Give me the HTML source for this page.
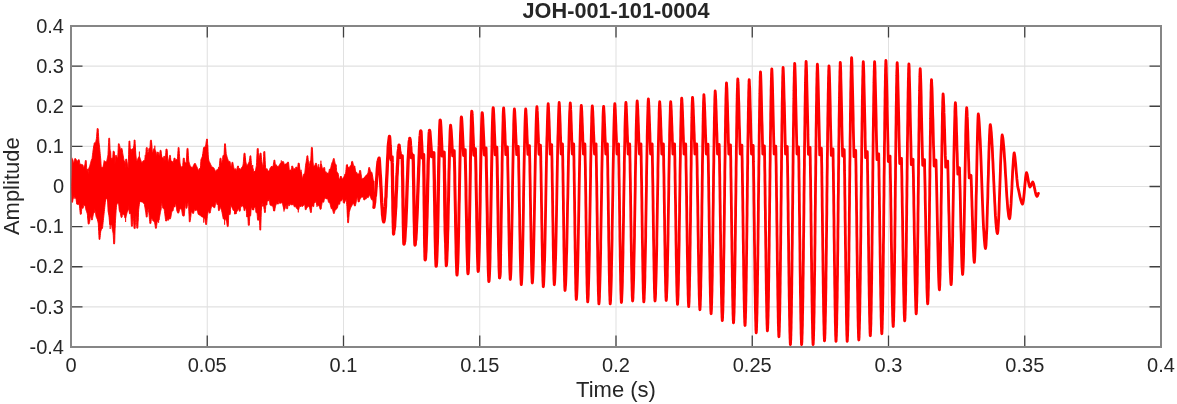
<!DOCTYPE html>
<html lang="en">
<head>
<meta charset="utf-8">
<title>JOH-001-101-0004</title>
<style>
html,body{margin:0;padding:0;background:#fff;}
body{width:1177px;height:404px;overflow:hidden;}
svg{display:block;}
</style>
</head>
<body>
<svg width="1177" height="404" viewBox="0 0 1177 404">
<rect width="1177" height="404" fill="#fff"/>
<path d="M207.25 26.0V347.0M343.50 26.0V347.0M479.75 26.0V347.0M616.00 26.0V347.0M752.25 26.0V347.0M888.50 26.0V347.0M1024.75 26.0V347.0M71.0 66.12H1161.0M71.0 106.25H1161.0M71.0 146.38H1161.0M71.0 186.50H1161.0M71.0 226.62H1161.0M71.0 266.75H1161.0M71.0 306.88H1161.0" stroke="#e1e1e1" stroke-width="1.05" fill="none"/>
<path d="M207.25 347.0v-11.5M207.25 26.0v11.5M343.50 347.0v-11.5M343.50 26.0v11.5M479.75 347.0v-11.5M479.75 26.0v11.5M616.00 347.0v-11.5M616.00 26.0v11.5M752.25 347.0v-11.5M752.25 26.0v11.5M888.50 347.0v-11.5M888.50 26.0v11.5M1024.75 347.0v-11.5M1024.75 26.0v11.5M71.0 66.12h11.5M1161.0 66.12h-11.5M71.0 106.25h11.5M1161.0 106.25h-11.5M71.0 146.38h11.5M1161.0 146.38h-11.5M71.0 186.50h11.5M1161.0 186.50h-11.5M71.0 226.62h11.5M1161.0 226.62h-11.5M71.0 266.75h11.5M1161.0 266.75h-11.5M71.0 306.88h11.5M1161.0 306.88h-11.5" stroke="#404040" stroke-width="1.3" fill="none"/>
<rect x="71.0" y="26.0" width="1090.0" height="321.0" fill="none" stroke="#868686" stroke-width="2"/>
<path d="M71.8 186.5L72.4 159.5L72.6 159.5L72.8 159.5L73.0 160.7L73.2 162.0L73.4 162.6L73.6 162.8L73.8 162.8L74.0 162.0L74.2 161.1L74.4 160.3L74.6 159.4L74.8 158.6L75.0 158.6L75.2 158.6L75.4 158.6L75.6 158.6L75.8 158.9L76.0 159.2L76.2 159.5L76.4 159.8L76.6 160.1L76.8 160.4L77.0 160.7L77.2 161.0L77.4 161.3L77.6 161.2L77.8 160.8L78.0 160.4L78.2 160.1L78.4 159.7L78.6 159.7L78.8 159.7L79.0 159.7L79.2 159.7L79.4 160.4L79.6 162.1L79.8 163.9L80.0 165.4L80.2 164.7L80.4 164.0L80.6 164.0L80.8 164.0L81.0 164.0L81.2 164.0L81.4 164.3L81.6 165.6L81.8 165.9L82.0 164.8L82.2 164.8L82.4 164.8L82.6 164.8L82.8 164.8L83.0 165.1L83.2 166.9L83.4 168.7L83.6 167.9L83.8 167.1L84.0 166.3L84.2 166.3L84.4 166.3L84.6 166.3L84.8 164.9L85.0 163.4L85.2 162.0L85.4 160.5L85.6 160.5L85.8 160.5L86.0 160.5L86.2 160.5L86.4 163.9L86.6 167.3L86.8 170.5L87.0 169.3L87.2 169.3L87.4 169.3L87.6 169.3L87.8 169.3L88.0 172.0L88.2 174.4L88.4 171.5L88.6 168.7L88.8 168.2L89.0 167.8L89.2 167.3L89.4 166.8L89.6 166.3L89.8 165.8L90.0 165.0L90.2 164.2L90.4 163.5L90.6 162.7L90.8 161.9L91.0 161.2L91.2 160.5L91.4 159.8L91.6 159.3L91.8 159.0L92.0 158.7L92.2 157.4L92.4 155.8L92.6 154.2L92.8 152.6L93.0 151.0L93.2 149.4L93.4 148.2L93.6 147.0L93.8 145.8L94.0 144.6L94.2 143.4L94.4 142.8L94.6 142.8L94.8 142.8L95.0 142.8L95.2 142.8L95.4 142.8L95.6 142.3L95.8 141.4L96.0 140.4L96.2 139.5L96.4 138.6L96.6 136.7L96.8 134.0L97.0 131.2L97.2 128.5L97.4 128.5L97.6 128.5L97.8 128.5L98.0 128.5L98.2 129.0L98.4 132.7L98.6 136.4L98.8 140.1L99.0 142.8L99.2 144.4L99.4 146.0L99.6 147.6L99.8 149.5L100.0 151.6L100.2 153.7L100.4 155.8L100.6 158.0L100.8 160.1L101.0 163.7L101.2 167.3L101.4 169.0L101.6 167.3L101.8 167.3L102.0 167.3L102.2 167.3L102.4 167.3L102.6 167.8L102.8 167.9L103.0 167.0L103.2 166.2L103.4 165.3L103.6 164.5L103.8 163.8L104.0 163.1L104.2 162.4L104.4 161.7L104.6 161.5L104.8 161.5L105.0 161.5L105.2 161.5L105.4 161.5L105.6 161.7L105.8 162.0L106.0 162.2L106.2 162.0L106.4 161.5L106.6 161.0L106.8 160.5L107.0 160.0L107.2 158.9L107.4 157.8L107.6 156.6L107.8 155.5L108.0 154.4L108.2 150.4L108.4 146.3L108.6 142.3L108.8 138.2L109.0 138.2L109.2 138.2L109.4 138.2L109.6 138.2L109.8 143.2L110.0 148.3L110.2 151.2L110.4 151.2L110.6 151.2L110.8 155.1L111.0 159.1L111.2 160.5L111.4 158.3L111.6 158.3L111.8 158.3L112.0 158.3L112.2 158.3L112.4 159.1L112.6 159.5L112.8 156.7L113.0 154.0L113.2 151.2L113.4 151.2L113.6 151.2L113.8 151.2L114.0 151.2L114.2 153.5L114.4 155.7L114.6 158.0L114.8 163.5L115.0 163.6L115.2 160.2L115.4 156.8L115.6 155.4L115.8 155.4L116.0 155.4L116.2 155.4L116.4 155.4L116.6 156.0L116.8 156.6L117.0 157.2L117.2 157.8L117.4 158.4L117.6 159.0L117.8 156.9L118.0 152.5L118.2 148.2L118.4 143.8L118.6 143.8L118.8 143.8L119.0 143.8L119.2 143.8L119.4 144.6L119.6 145.4L119.8 146.2L120.0 147.0L120.2 148.6L120.4 149.5L120.6 149.3L120.8 149.0L121.0 148.7L121.2 148.4L121.4 148.4L121.6 148.4L121.8 148.4L122.0 148.4L122.2 149.7L122.4 151.0L122.6 152.3L122.8 153.6L123.0 154.7L123.2 155.9L123.4 157.1L123.6 158.2L123.8 159.4L124.0 160.2L124.2 160.8L124.4 161.3L124.6 161.8L124.8 162.4L125.0 164.8L125.2 169.1L125.4 166.6L125.6 161.2L125.8 159.1L126.0 159.1L126.2 159.1L126.4 159.1L126.6 159.1L126.8 160.2L127.0 161.3L127.2 162.4L127.4 163.5L127.6 164.8L127.8 166.1L128.0 167.4L128.2 168.3L128.4 161.5L128.6 154.6L128.8 147.8L129.0 141.0L129.2 141.0L129.4 141.0L129.6 141.0L129.8 141.0L130.0 144.2L130.2 147.5L130.4 150.5L130.6 149.3L130.8 149.3L131.0 149.3L131.2 149.3L131.4 149.3L131.6 151.9L131.8 154.1L132.0 151.5L132.2 148.8L132.4 148.8L132.6 148.8L132.8 148.8L133.0 148.8L133.2 149.6L133.4 150.4L133.6 150.2L133.8 146.8L134.0 143.4L134.2 140.0L134.4 140.0L134.6 140.0L134.8 140.0L135.0 140.0L135.2 143.5L135.4 147.0L135.6 150.5L135.8 154.0L136.0 156.0L136.2 158.0L136.4 160.0L136.6 160.2L136.8 160.3L137.0 160.5L137.2 160.3L137.4 159.8L137.6 159.3L137.8 158.8L138.0 158.3L138.2 157.9L138.4 157.5L138.6 157.2L138.8 156.8L139.0 156.8L139.2 156.8L139.4 156.8L139.6 156.8L139.8 157.4L140.0 157.9L140.2 158.5L140.4 159.1L140.6 159.6L140.8 160.2L141.0 160.8L141.2 161.3L141.4 161.8L141.6 162.3L141.8 162.8L142.0 162.8L142.2 162.3L142.4 161.9L142.6 161.4L142.8 161.2L143.0 161.0L143.2 160.9L143.4 160.7L143.6 160.5L143.8 160.5L144.0 160.5L144.2 160.5L144.4 160.5L144.6 161.7L144.8 160.0L145.0 157.5L145.2 154.9L145.4 154.9L145.6 154.9L145.8 154.7L146.0 151.5L146.2 148.2L146.4 147.6L146.6 147.6L146.8 147.6L147.0 147.6L147.2 147.6L147.4 149.6L147.6 151.6L147.8 152.5L148.0 152.5L148.2 152.5L148.4 154.1L148.6 151.5L148.8 148.9L149.0 148.2L149.2 148.2L149.4 148.2L149.6 148.2L149.8 148.2L150.0 147.4L150.2 144.1L150.4 140.8L150.6 140.2L150.8 140.2L151.0 140.2L151.2 140.2L151.4 140.2L151.6 142.4L151.8 144.5L152.0 146.7L152.2 151.7L152.4 153.1L152.6 152.9L152.8 151.8L153.0 151.1L153.2 150.3L153.4 149.5L153.6 148.8L153.8 148.7L154.0 148.7L154.2 148.7L154.4 148.7L154.6 148.7L154.8 149.4L155.0 149.9L155.2 150.3L155.4 150.7L155.6 151.1L155.8 151.5L156.0 151.9L156.2 152.5L156.4 153.5L156.6 154.4L156.8 155.4L157.0 154.4L157.2 153.3L157.4 152.1L157.6 152.1L157.8 152.1L158.0 152.1L158.2 152.1L158.4 153.0L158.6 153.9L158.8 154.7L159.0 155.6L159.2 155.6L159.4 154.6L159.6 153.5L159.8 152.4L160.0 151.4L160.2 150.3L160.4 150.3L160.6 150.3L160.8 150.3L161.0 150.3L161.2 152.0L161.4 153.8L161.6 155.5L161.8 157.2L162.0 157.7L162.2 157.7L162.4 157.7L162.6 157.8L162.8 157.8L163.0 157.8L163.2 160.1L163.4 161.6L163.6 159.0L163.8 156.3L164.0 156.3L164.2 156.3L164.4 156.3L164.6 156.3L164.8 158.7L165.0 161.1L165.2 161.6L165.4 159.4L165.6 156.0L165.8 152.6L166.0 149.2L166.2 149.0L166.4 149.0L166.6 149.0L166.8 149.0L167.0 149.0L167.2 152.1L167.4 155.2L167.6 158.3L167.8 160.2L168.0 160.9L168.2 161.7L168.4 161.6L168.6 160.6L168.8 159.7L169.0 158.7L169.2 157.7L169.4 156.5L169.6 155.4L169.8 155.4L170.0 155.4L170.2 155.4L170.4 155.4L170.6 157.8L170.8 160.3L171.0 162.0L171.2 161.0L171.4 161.0L171.6 161.0L171.8 161.0L172.0 161.0L172.2 161.3L172.4 161.5L172.6 161.7L172.8 161.9L173.0 162.1L173.2 162.4L173.4 162.2L173.6 160.9L173.8 159.6L174.0 158.3L174.2 158.1L174.4 158.1L174.6 158.1L174.8 158.1L175.0 158.1L175.2 158.8L175.4 159.6L175.6 160.2L175.8 160.1L176.0 159.9L176.2 159.8L176.4 159.6L176.6 159.6L176.8 159.6L177.0 159.6L177.2 159.6L177.4 159.1L177.6 156.2L177.8 153.3L178.0 150.4L178.2 147.5L178.4 147.5L178.6 147.5L178.8 147.5L179.0 147.5L179.2 150.6L179.4 153.7L179.6 156.8L179.8 159.9L180.0 163.0L180.2 163.9L180.4 164.7L180.6 165.6L180.8 166.4L181.0 167.3L181.2 167.6L181.4 167.1L181.6 166.7L181.8 166.7L182.0 166.7L182.2 166.7L182.4 166.7L182.6 167.0L182.8 165.7L183.0 162.4L183.2 159.1L183.4 158.1L183.6 158.1L183.8 158.1L184.0 158.1L184.2 158.1L184.4 159.4L184.6 160.6L184.8 161.9L185.0 162.3L185.2 162.5L185.4 162.7L185.6 162.8L185.8 163.0L186.0 163.1L186.2 163.2L186.4 161.4L186.6 157.1L186.8 152.9L187.0 148.7L187.2 148.4L187.4 148.4L187.6 148.4L187.8 148.4L188.0 148.4L188.2 152.0L188.4 155.5L188.6 159.1L188.8 161.2L189.0 161.9L189.2 162.6L189.4 163.3L189.6 163.9L189.8 164.6L190.0 165.2L190.2 165.8L190.4 166.4L190.6 167.0L190.8 167.0L191.0 167.0L191.2 167.0L191.4 167.0L191.6 167.0L191.8 167.2L192.0 167.4L192.2 167.6L192.4 167.7L192.6 167.2L192.8 166.8L193.0 166.4L193.2 165.9L193.4 165.5L193.6 165.1L193.8 164.7L194.0 164.3L194.2 163.9L194.4 163.5L194.6 163.5L194.8 163.5L195.0 163.5L195.2 163.5L195.4 163.5L195.6 164.0L195.8 164.5L196.0 165.0L196.2 165.4L196.4 165.9L196.6 166.3L196.8 166.7L197.0 167.1L197.2 167.5L197.4 167.9L197.6 168.5L197.8 169.3L198.0 170.0L198.2 170.8L198.4 170.9L198.6 170.3L198.8 169.8L199.0 169.2L199.2 168.6L199.4 168.6L199.6 168.6L199.8 168.6L200.0 168.6L200.2 169.1L200.4 168.9L200.6 165.2L200.8 161.5L201.0 159.4L201.2 158.9L201.4 158.5L201.6 158.0L201.8 157.6L202.0 157.2L202.2 156.7L202.4 156.3L202.6 155.0L202.8 153.5L203.0 152.0L203.2 150.5L203.4 149.0L203.6 147.5L203.8 147.4L204.0 147.3L204.2 147.3L204.4 147.2L204.6 147.1L204.8 147.0L205.0 147.0L205.2 146.9L205.4 146.1L205.6 145.3L205.8 144.6L206.0 143.2L206.2 141.8L206.4 140.5L206.6 139.1L206.8 139.1L207.0 139.1L207.2 139.1L207.4 139.1L207.6 143.5L207.8 147.9L208.0 151.4L208.2 154.7L208.4 158.0L208.6 159.0L208.8 160.1L209.0 161.1L209.2 161.5L209.4 161.8L209.6 162.2L209.8 162.6L210.0 162.9L210.2 163.3L210.4 164.0L210.6 164.7L210.8 165.4L211.0 166.1L211.2 166.8L211.4 167.0L211.6 167.0L211.8 167.0L212.0 167.0L212.2 167.0L212.4 167.0L212.6 167.1L212.8 167.2L213.0 167.3L213.2 167.5L213.4 167.6L213.6 167.7L213.8 167.8L214.0 168.1L214.2 168.5L214.4 168.9L214.6 169.3L214.8 169.8L215.0 170.3L215.2 170.9L215.4 171.4L215.6 171.5L215.8 171.0L216.0 170.6L216.2 170.4L216.4 170.2L216.6 170.0L216.8 169.8L217.0 169.6L217.2 169.4L217.4 169.2L217.6 169.2L217.8 169.2L218.0 169.2L218.2 169.2L218.4 169.4L218.6 169.6L218.8 169.1L219.0 168.1L219.2 167.2L219.4 165.5L219.6 163.2L219.8 160.8L220.0 158.5L220.2 158.2L220.4 158.2L220.6 158.2L220.8 158.2L221.0 158.2L221.2 160.1L221.4 162.0L221.6 162.8L221.8 162.8L222.0 162.8L222.2 162.9L222.4 163.0L222.6 159.7L222.8 156.4L223.0 155.4L223.2 155.4L223.4 155.4L223.6 155.4L223.8 155.4L224.0 156.5L224.2 152.3L224.4 148.0L224.6 143.8L224.8 143.8L225.0 143.8L225.2 143.8L225.4 143.8L225.6 146.2L225.8 148.7L226.0 151.1L226.2 153.5L226.4 154.3L226.6 155.0L226.8 155.8L227.0 156.6L227.2 157.3L227.4 158.0L227.6 158.6L227.8 159.1L228.0 159.7L228.2 160.3L228.4 160.9L228.6 161.3L228.8 161.3L229.0 161.3L229.2 161.3L229.4 161.4L229.6 161.4L229.8 161.4L230.0 161.4L230.2 162.5L230.4 163.6L230.6 164.7L230.8 165.9L231.0 166.2L231.2 166.3L231.4 165.7L231.6 164.6L231.8 163.4L232.0 162.3L232.2 162.3L232.4 162.3L232.6 162.3L232.8 162.3L233.0 163.3L233.2 164.4L233.4 165.4L233.6 166.5L233.8 167.5L234.0 168.5L234.2 169.4L234.4 169.2L234.6 169.0L234.8 168.8L235.0 168.8L235.2 168.8L235.4 168.8L235.6 168.8L235.8 169.5L236.0 170.1L236.2 170.8L236.4 170.3L236.6 169.7L236.8 169.1L237.0 168.4L237.2 167.6L237.4 166.8L237.6 166.0L237.8 166.0L238.0 166.0L238.2 166.0L238.4 166.0L238.6 167.8L238.8 169.3L239.0 169.0L239.2 168.6L239.4 168.6L239.6 168.6L239.8 168.6L240.0 168.6L240.2 168.9L240.4 169.3L240.6 169.7L240.8 169.5L241.0 168.9L241.2 168.2L241.4 167.8L241.6 167.5L241.8 167.3L242.0 167.1L242.2 166.8L242.4 166.6L242.6 166.3L242.8 165.7L243.0 164.7L243.2 163.7L243.4 161.8L243.6 159.0L243.8 156.2L244.0 153.5L244.2 153.2L244.4 153.2L244.6 153.2L244.8 153.2L245.0 153.2L245.2 155.5L245.4 157.8L245.6 160.1L245.8 161.6L246.0 162.4L246.2 163.2L246.4 163.9L246.6 164.7L246.8 165.2L247.0 165.5L247.2 165.7L247.4 166.0L247.6 165.3L247.8 164.2L248.0 163.9L248.2 163.6L248.4 163.3L248.6 162.9L248.8 162.5L249.0 162.1L249.2 161.7L249.4 160.2L249.6 158.7L249.8 157.3L250.0 155.8L250.2 155.8L250.4 155.8L250.6 155.8L250.8 155.8L251.0 158.1L251.2 160.4L251.4 162.6L251.6 164.9L251.8 165.6L252.0 166.3L252.2 167.0L252.4 167.7L252.6 168.3L252.8 168.7L253.0 168.8L253.2 168.8L253.4 171.1L253.6 173.3L253.8 173.2L254.0 172.4L254.2 171.6L254.4 171.6L254.6 171.6L254.8 171.6L255.0 171.6L255.2 171.6L255.4 170.6L255.6 169.6L255.8 168.6L256.0 167.5L256.2 166.5L256.4 165.5L256.6 162.7L256.8 158.1L257.0 153.5L257.2 148.9L257.4 148.5L257.6 148.5L257.8 148.5L258.0 148.5L258.2 148.5L258.4 152.4L258.6 156.2L258.8 159.0L259.0 158.3L259.2 157.6L259.4 156.9L259.6 155.9L259.8 155.0L260.0 154.0L260.2 153.0L260.4 153.0L260.6 153.0L260.8 153.0L261.0 153.0L261.2 155.1L261.4 157.2L261.6 159.4L261.8 161.5L262.0 162.5L262.2 163.5L262.4 164.6L262.6 165.9L262.8 167.6L263.0 166.8L263.2 166.0L263.4 161.2L263.6 156.5L263.8 151.7L264.0 151.5L264.2 151.5L264.4 151.5L264.6 151.5L264.8 151.5L265.0 155.9L265.2 160.4L265.4 164.8L265.6 167.5L265.8 168.5L266.0 169.5L266.2 169.7L266.4 168.8L266.6 168.8L266.8 168.8L267.0 168.8L267.2 168.8L267.4 170.8L267.6 171.8L267.8 171.5L268.0 171.1L268.2 171.1L268.4 171.1L268.6 171.1L268.8 171.1L269.0 171.2L269.2 171.3L269.4 170.7L269.6 169.9L269.8 169.1L270.0 168.3L270.2 167.8L270.4 167.7L270.6 167.6L270.8 167.5L271.0 167.4L271.2 167.2L271.4 167.1L271.6 167.0L271.8 166.8L272.0 166.7L272.2 166.5L272.4 166.4L272.6 166.2L272.8 166.0L273.0 165.8L273.2 165.6L273.4 164.2L273.6 162.8L273.8 161.5L274.0 160.1L274.2 160.1L274.4 160.1L274.6 160.1L274.8 160.1L275.0 162.0L275.2 163.8L275.4 165.7L275.6 165.4L275.8 164.9L276.0 164.9L276.2 164.9L276.4 164.9L276.6 164.9L276.8 166.3L277.0 167.8L277.2 167.6L277.4 166.6L277.6 166.6L277.8 166.5L278.0 166.5L278.2 166.4L278.4 166.3L278.6 166.1L278.8 165.8L279.0 165.5L279.2 165.2L279.4 165.0L279.6 164.6L279.8 164.3L280.0 163.9L280.2 163.5L280.4 163.2L280.6 163.1L280.8 163.0L281.0 162.9L281.2 162.7L281.4 162.6L281.6 162.5L281.8 162.4L282.0 162.1L282.2 161.8L282.4 161.5L282.6 161.5L282.8 161.5L283.0 161.5L283.2 161.5L283.4 161.6L283.6 162.1L283.8 162.6L284.0 163.3L284.2 164.0L284.4 164.7L284.6 165.1L284.8 164.5L285.0 164.2L285.2 164.1L285.4 164.1L285.6 164.0L285.8 164.0L286.0 163.9L286.2 163.9L286.4 163.8L286.6 163.5L286.8 163.3L287.0 163.0L287.2 162.7L287.4 162.4L287.6 162.1L287.8 162.1L288.0 162.1L288.2 162.1L288.4 162.1L288.6 163.0L288.8 165.0L289.0 167.1L289.2 169.1L289.4 170.8L289.6 170.4L289.8 170.0L290.0 170.0L290.2 170.0L290.4 170.0L290.6 170.0L290.8 170.0L291.0 170.4L291.2 170.4L291.4 168.9L291.6 167.5L291.8 166.0L292.0 166.0L292.2 166.0L292.4 166.0L292.6 166.0L292.8 166.6L293.0 167.2L293.2 167.9L293.4 168.5L293.6 169.1L293.8 169.6L294.0 169.2L294.2 168.7L294.4 168.7L294.6 168.7L294.8 168.7L295.0 168.7L295.2 168.9L295.4 169.7L295.6 168.4L295.8 167.1L296.0 167.1L296.2 167.1L296.4 167.1L296.6 167.1L296.8 167.2L297.0 168.5L297.2 169.8L297.4 169.3L297.6 168.0L297.8 166.4L298.0 164.7L298.2 163.1L298.4 163.1L298.6 163.1L298.8 163.1L299.0 163.1L299.2 163.2L299.4 165.0L299.6 166.8L299.8 168.5L300.0 169.7L300.2 170.3L300.4 170.9L300.6 171.5L300.8 172.1L301.0 172.5L301.2 172.5L301.4 172.5L301.6 173.4L301.8 175.3L302.0 177.1L302.2 178.3L302.4 178.3L302.6 177.9L302.8 177.1L303.0 176.3L303.2 175.6L303.4 174.8L303.6 174.3L303.8 174.1L304.0 173.9L304.2 173.6L304.4 173.4L304.6 173.2L304.8 173.0L305.0 171.0L305.2 169.1L305.4 167.1L305.6 165.2L305.8 163.7L306.0 162.7L306.2 161.7L306.4 160.2L306.6 158.7L306.8 157.3L307.0 155.8L307.2 155.8L307.4 155.8L307.6 155.8L307.8 155.8L308.0 157.7L308.2 159.6L308.4 161.5L308.6 166.2L308.8 167.5L309.0 167.5L309.2 166.2L309.4 165.0L309.6 163.8L309.8 162.6L310.0 161.4L310.2 161.0L310.4 160.7L310.6 160.3L310.8 160.0L311.0 155.8L311.2 151.6L311.4 147.4L311.6 147.4L311.8 147.4L312.0 147.4L312.2 147.4L312.4 147.7L312.6 152.5L312.8 157.2L313.0 162.0L313.2 163.2L313.4 164.5L313.6 165.7L313.8 166.8L314.0 166.0L314.2 165.8L314.4 165.8L314.6 165.8L314.8 165.8L315.0 165.5L315.2 164.4L315.4 163.4L315.6 163.3L315.8 163.3L316.0 163.3L316.2 163.3L316.4 163.3L316.6 164.0L316.8 164.7L317.0 165.4L317.2 166.1L317.4 166.7L317.6 167.3L317.8 167.8L318.0 167.8L318.2 167.3L318.4 167.3L318.6 167.3L318.8 167.3L319.0 167.3L319.2 167.3L319.4 167.8L319.6 168.3L319.8 168.9L320.0 168.9L320.2 167.3L320.4 165.8L320.6 164.2L320.8 164.2L321.0 164.2L321.2 164.2L321.4 164.2L321.6 165.0L321.8 165.9L322.0 166.7L322.2 167.5L322.4 168.3L322.6 169.2L322.8 170.0L323.0 170.2L323.2 170.3L323.4 169.5L323.6 168.5L323.8 167.5L324.0 167.5L324.2 167.5L324.4 167.5L324.6 167.5L324.8 168.7L325.0 172.0L325.2 172.4L325.4 171.8L325.6 171.8L325.8 171.8L326.0 171.8L326.2 171.8L326.4 172.3L326.6 173.7L326.8 174.3L327.0 173.2L327.2 173.0L327.4 173.0L327.6 173.0L327.8 173.0L328.0 173.0L328.2 173.7L328.4 173.3L328.6 172.7L328.8 172.0L329.0 171.3L329.2 170.3L329.4 169.3L329.6 169.1L329.8 169.1L330.0 169.1L330.2 169.1L330.4 169.1L330.6 168.3L330.8 167.4L331.0 166.5L331.2 165.6L331.4 164.8L331.6 164.0L331.8 163.3L332.0 162.7L332.2 162.3L332.4 162.0L332.6 161.6L332.8 160.9L333.0 160.1L333.2 159.4L333.4 158.6L333.6 158.6L333.8 158.6L334.0 158.6L334.2 158.6L334.4 159.7L334.6 160.7L334.8 161.8L335.0 162.9L335.2 163.5L335.4 164.1L335.6 164.5L335.8 164.6L336.0 164.6L336.2 164.7L336.4 167.6L336.6 170.6L336.8 171.5L337.0 171.8L337.2 172.1L337.4 172.4L337.6 172.6L337.8 172.9L338.0 173.2L338.2 173.5L338.4 174.8L338.6 176.0L338.8 177.3L339.0 178.3L339.2 178.7L339.4 179.0L339.6 179.3L339.8 178.8L340.0 178.3L340.2 177.7L340.4 177.2L340.6 176.6L340.8 176.6L341.0 176.6L341.2 176.6L341.4 176.6L341.6 177.3L341.8 178.0L342.0 178.7L342.2 179.3L342.4 179.0L342.6 178.7L342.8 178.4L343.0 178.1L343.2 177.8L343.4 177.5L343.6 177.2L343.8 176.9L344.0 176.6L344.2 176.3L344.4 176.0L344.6 175.5L344.8 175.1L345.0 174.6L345.2 174.1L345.4 173.5L345.6 172.9L345.8 171.5L346.0 169.4L346.2 167.3L346.4 165.2L346.6 164.8L346.8 164.8L347.0 164.8L347.2 164.8L347.4 164.8L347.6 165.9L347.8 167.0L348.0 167.8L348.2 167.5L348.4 167.3L348.6 167.3L348.8 167.3L349.0 167.3L349.2 167.3L349.4 167.6L349.6 168.5L349.8 167.4L350.0 166.0L350.2 165.7L350.4 165.7L350.6 165.7L350.8 165.7L351.0 165.7L351.2 165.2L351.4 163.5L351.6 161.8L351.8 161.4L352.0 161.4L352.2 161.4L352.4 161.4L352.6 161.4L352.8 162.3L353.0 163.2L353.2 164.1L353.4 165.1L353.6 166.2L353.8 166.4L354.0 166.0L354.2 166.0L354.4 166.0L354.6 166.0L354.8 166.0L355.0 167.5L355.2 169.0L355.4 170.4L355.6 171.9L355.8 172.4L356.0 172.3L356.2 172.3L356.4 172.3L356.6 172.3L356.8 172.3L357.0 173.9L357.2 175.2L357.4 174.1L357.6 173.7L357.8 173.7L358.0 173.7L358.2 173.7L358.4 173.7L358.6 174.0L358.8 174.3L359.0 174.6L359.2 173.4L359.4 172.0L359.6 170.5L359.8 170.5L360.0 170.5L360.2 170.5L360.4 170.5L360.6 170.5L360.8 172.0L361.0 173.4L361.2 174.9L361.4 176.2L361.6 177.5L361.8 178.7L362.0 179.2L362.2 179.1L362.4 178.9L362.6 178.6L362.8 178.3L363.0 178.3L363.2 178.3L363.4 178.3L363.6 178.3L363.8 178.3L364.0 178.2L364.2 177.8L364.4 177.5L364.6 177.2L364.8 176.9L365.0 176.6L365.2 176.4L365.4 176.1L365.6 175.8L365.8 175.6L366.0 175.3L366.2 175.2L366.4 175.1L366.6 175.0L366.8 174.9L367.0 174.7L367.2 174.3L367.4 174.0L367.6 173.6L367.8 173.3L368.0 173.0L368.2 171.6L368.4 170.2L368.6 168.9L368.8 167.5L369.0 167.5L369.2 167.5L369.4 167.5L369.6 167.5L369.8 168.4L370.0 169.3L370.2 170.1L370.4 171.0L370.6 171.2L370.8 171.5L371.0 171.7L371.2 172.0L371.4 172.1L371.6 172.2L371.8 172.4L372.0 172.5L372.2 173.7L372.4 174.9L372.6 176.0L372.8 177.2L373.0 178.4L373.2 179.6L373.4 180.8L373.6 181.0L373.8 181.0L374.0 181.0L374.0 186.5L373.9 205.3L373.7 205.3L373.5 205.3L373.3 204.0L373.1 202.8L372.9 201.5L372.7 200.3L372.5 199.8L372.3 199.8L372.1 199.8L371.9 199.8L371.7 199.8L371.5 199.7L371.3 199.2L371.1 198.7L370.9 198.2L370.7 197.7L370.5 197.2L370.3 196.7L370.1 195.9L369.9 194.8L369.7 194.0L369.5 194.7L369.3 195.3L369.1 195.8L368.9 196.2L368.7 196.7L368.5 197.1L368.3 197.6L368.1 197.6L367.9 197.6L367.7 197.6L367.5 197.6L367.3 197.2L367.1 196.9L366.9 197.3L366.7 197.8L366.5 198.3L366.3 198.8L366.1 198.9L365.9 198.9L365.7 198.9L365.5 198.9L365.3 198.9L365.1 198.8L364.9 199.3L364.7 200.0L364.5 200.0L364.3 200.0L364.1 200.0L363.9 200.0L363.7 199.5L363.5 197.6L363.3 195.9L363.1 196.3L362.9 196.8L362.7 197.2L362.5 197.2L362.3 197.2L362.1 197.2L361.9 197.2L361.7 197.0L361.5 196.1L361.3 196.8L361.1 197.9L360.9 198.3L360.7 198.3L360.5 198.3L360.3 198.3L360.1 198.9L359.9 199.5L359.7 200.1L359.5 200.7L359.3 201.4L359.1 202.0L358.9 202.0L358.7 202.0L358.5 202.0L358.3 202.0L358.1 201.6L357.9 200.1L357.7 198.7L357.5 197.4L357.3 197.6L357.1 197.9L356.9 198.7L356.7 199.7L356.5 200.6L356.3 201.6L356.1 202.6L355.9 203.5L355.7 204.4L355.5 205.2L355.3 206.0L355.1 206.0L354.9 206.0L354.7 206.0L354.5 206.0L354.3 205.5L354.1 204.9L353.9 204.4L353.7 204.0L353.5 203.6L353.3 203.2L353.1 203.3L352.9 203.7L352.7 204.1L352.5 204.5L352.3 204.9L352.1 205.3L351.9 205.6L351.7 206.0L351.5 206.4L351.3 206.8L351.1 207.1L350.9 207.5L350.7 207.8L350.5 208.4L350.3 209.0L350.1 209.6L349.9 210.2L349.7 210.9L349.5 211.6L349.3 212.3L349.1 214.9L348.9 217.5L348.7 220.1L348.5 222.7L348.3 222.7L348.1 222.7L347.9 222.7L347.7 222.7L347.5 218.6L347.3 214.6L347.1 210.5L346.9 206.5L346.7 204.6L346.5 202.7L346.3 200.9L346.1 199.2L345.9 199.7L345.7 200.1L345.5 200.5L345.3 200.9L345.1 201.3L344.9 201.8L344.7 202.2L344.5 202.6L344.3 203.0L344.1 203.0L343.9 203.0L343.7 203.0L343.5 203.0L343.3 202.4L343.1 200.8L342.9 199.2L342.7 197.6L342.5 198.2L342.3 198.9L342.1 199.5L341.9 199.9L341.7 200.3L341.5 200.7L341.3 201.1L341.1 201.1L340.9 201.1L340.7 201.1L340.5 201.1L340.3 200.5L340.1 201.4L339.9 202.8L339.7 204.2L339.5 204.2L339.3 204.2L339.1 204.2L338.9 204.2L338.7 203.9L338.5 203.6L338.3 204.1L338.1 205.0L337.9 205.9L337.7 206.7L337.5 207.6L337.3 208.0L337.1 208.3L336.9 208.6L336.7 208.9L336.5 209.0L336.3 209.2L336.1 209.4L335.9 209.5L335.7 209.7L335.5 209.9L335.3 210.0L335.1 210.2L334.9 211.0L334.7 211.8L334.5 212.6L334.3 213.4L334.1 213.4L333.9 213.4L333.7 213.4L333.5 213.4L333.3 212.6L333.1 211.8L332.9 211.0L332.7 210.2L332.5 208.2L332.3 207.7L332.1 208.8L331.9 208.8L331.7 208.8L331.5 208.8L331.3 208.8L331.1 208.0L330.9 207.2L330.7 206.4L330.5 205.6L330.3 204.8L330.1 204.1L329.9 203.3L329.7 202.8L329.5 202.7L329.3 202.6L329.1 202.6L328.9 202.5L328.7 202.4L328.5 202.3L328.3 201.5L328.1 200.6L327.9 199.8L327.7 198.9L327.5 198.6L327.3 198.7L327.1 198.9L326.9 198.9L326.7 198.9L326.5 198.9L326.3 198.9L326.1 198.4L325.9 197.4L325.7 197.4L325.5 198.4L325.3 198.4L325.1 198.4L324.9 198.4L324.7 198.4L324.5 198.2L324.3 198.9L324.1 200.3L323.9 201.6L323.7 202.2L323.5 202.2L323.3 202.2L323.1 202.2L322.9 202.2L322.7 202.0L322.5 201.8L322.3 202.2L322.1 203.1L321.9 204.1L321.7 205.2L321.5 206.5L321.3 207.8L321.1 209.1L320.9 209.3L320.7 209.3L320.5 209.3L320.3 209.3L320.1 209.3L319.9 208.5L319.7 207.7L319.5 206.9L319.3 206.4L319.1 206.2L318.9 206.0L318.7 205.9L318.5 205.7L318.3 205.5L318.1 205.4L317.9 205.4L317.7 205.3L317.5 205.3L317.3 205.2L317.1 205.2L316.9 205.1L316.7 204.3L316.5 202.6L316.3 201.0L316.1 200.4L315.9 200.9L315.7 201.5L315.5 202.0L315.3 202.6L315.1 202.6L314.9 202.6L314.7 202.6L314.5 202.6L314.3 201.8L314.1 203.1L313.9 204.9L313.7 206.6L313.5 206.6L313.3 206.6L313.1 206.6L312.9 206.6L312.7 206.2L312.5 205.8L312.3 205.4L312.1 205.0L311.9 205.7L311.7 207.9L311.5 210.2L311.3 212.5L311.1 212.5L310.9 212.5L310.7 212.5L310.5 212.5L310.3 211.4L310.1 210.2L309.9 209.1L309.7 208.0L309.5 207.7L309.3 207.4L309.1 207.2L308.9 207.0L308.7 206.7L308.5 206.5L308.3 206.2L308.1 206.0L307.9 206.0L307.7 205.9L307.5 206.0L307.3 206.6L307.1 207.1L306.9 207.6L306.7 208.1L306.5 208.7L306.3 209.2L306.1 209.7L305.9 209.7L305.7 209.7L305.5 209.7L305.3 209.7L305.1 207.8L304.9 206.0L304.7 204.1L304.5 204.1L304.3 204.5L304.1 204.9L303.9 205.1L303.7 205.3L303.5 205.5L303.3 205.7L303.1 206.0L302.9 206.2L302.7 206.4L302.5 206.4L302.3 206.4L302.1 206.4L301.9 206.4L301.7 205.4L301.5 204.3L301.3 205.4L301.1 206.4L300.9 206.4L300.7 206.4L300.5 206.4L300.3 206.4L300.1 206.5L299.9 206.5L299.7 206.5L299.5 206.7L299.3 207.4L299.1 208.2L298.9 208.9L298.7 209.7L298.5 209.7L298.3 209.7L298.1 209.7L297.9 209.7L297.7 209.5L297.5 209.3L297.3 209.1L297.1 208.9L296.9 208.7L296.7 208.5L296.5 208.3L296.3 208.0L296.1 207.6L295.9 207.2L295.7 206.8L295.5 206.5L295.3 206.6L295.1 206.8L294.9 206.8L294.7 206.8L294.5 206.8L294.3 206.8L294.1 206.4L293.9 205.3L293.7 204.2L293.5 203.2L293.3 202.4L293.1 203.2L292.9 204.0L292.7 204.7L292.5 204.9L292.3 204.9L292.1 204.9L291.9 204.9L291.7 204.9L291.5 204.8L291.3 204.7L291.1 204.6L290.9 204.6L290.7 204.5L290.5 204.4L290.3 204.0L290.1 203.2L289.9 204.2L289.7 205.3L289.5 205.7L289.3 205.7L289.1 205.7L288.9 205.7L288.7 205.7L288.5 205.2L288.3 204.8L288.1 204.3L287.9 204.8L287.7 208.1L287.5 208.8L287.3 208.8L287.1 208.8L286.9 208.8L286.7 208.8L286.5 206.9L286.3 205.1L286.1 205.3L285.9 205.8L285.7 206.4L285.5 207.1L285.3 207.9L285.1 208.6L284.9 209.3L284.7 209.3L284.5 209.3L284.3 209.3L284.1 209.3L283.9 209.3L283.7 208.6L283.5 207.8L283.3 207.0L283.1 206.3L282.9 205.5L282.7 204.7L282.5 204.1L282.3 203.6L282.1 203.0L281.9 202.5L281.7 202.3L281.5 202.6L281.3 202.9L281.1 203.2L280.9 203.2L280.7 203.2L280.5 203.2L280.3 203.2L280.1 202.9L279.9 202.7L279.7 202.4L279.5 202.1L279.3 201.9L279.1 201.5L278.9 201.0L278.7 200.4L278.5 202.1L278.3 204.1L278.1 204.1L277.9 204.1L277.7 204.1L277.5 204.1L277.3 203.9L277.1 203.7L276.9 203.5L276.7 203.6L276.5 203.7L276.3 204.2L276.1 204.7L275.9 205.1L275.7 205.6L275.5 206.1L275.3 207.0L275.1 208.3L274.9 209.6L274.7 210.9L274.5 211.0L274.3 211.0L274.1 211.0L273.9 211.0L273.7 211.0L273.5 209.9L273.3 208.8L273.1 207.6L272.9 206.9L272.7 206.5L272.5 206.1L272.3 205.8L272.1 205.8L271.9 205.7L271.7 205.7L271.5 205.7L271.3 205.7L271.1 205.6L270.9 205.5L270.7 205.4L270.5 205.3L270.3 205.2L270.1 205.1L269.9 203.9L269.7 202.7L269.5 201.6L269.3 200.4L269.1 199.2L268.9 199.8L268.7 200.4L268.5 200.9L268.3 200.9L268.1 200.9L267.9 200.9L267.7 200.9L267.5 199.6L267.3 200.4L267.1 202.7L266.9 205.0L266.7 205.0L266.5 205.0L266.3 205.0L266.1 205.0L265.9 203.9L265.7 206.7L265.5 209.6L265.3 212.5L265.1 212.5L264.9 212.5L264.7 212.5L264.5 212.5L264.3 210.1L264.1 207.6L263.9 205.2L263.7 203.0L263.5 204.6L263.3 206.2L263.1 206.2L262.9 206.2L262.7 206.2L262.5 206.2L262.3 204.3L262.1 202.4L261.9 203.7L261.7 205.4L261.5 207.1L261.3 211.2L261.1 217.5L260.9 223.8L260.7 230.1L260.5 230.1L260.3 230.1L260.1 230.1L259.9 230.1L259.7 225.5L259.5 220.9L259.3 217.3L259.1 217.3L258.9 217.8L258.7 219.0L258.5 220.2L258.3 220.2L258.1 220.2L257.9 220.2L257.7 220.2L257.5 219.3L257.3 216.4L257.1 213.5L256.9 212.8L256.7 212.8L256.5 212.8L256.3 212.8L256.1 212.8L255.9 212.1L255.7 209.8L255.5 207.5L255.3 207.2L255.1 207.5L254.9 207.5L254.7 207.5L254.5 207.5L254.3 207.5L254.1 207.8L253.9 208.9L253.7 210.0L253.5 210.0L253.3 210.0L253.1 210.0L252.9 210.0L252.7 210.0L252.5 208.9L252.3 207.8L252.1 207.4L251.9 207.4L251.7 207.4L251.5 207.4L251.3 207.2L251.1 208.9L250.9 212.1L250.7 215.3L250.5 215.9L250.3 215.9L250.1 215.9L249.9 215.9L249.7 217.1L249.5 221.2L249.3 225.3L249.1 225.3L248.9 225.3L248.7 225.3L248.5 225.3L248.3 225.3L248.1 221.2L247.9 217.2L247.7 215.6L247.5 216.9L247.3 216.9L247.1 216.9L246.9 216.9L246.7 216.9L246.5 213.7L246.3 210.5L246.1 207.3L245.9 207.7L245.7 207.7L245.5 207.7L245.3 208.3L245.1 209.5L244.9 210.6L244.7 210.6L244.5 210.6L244.3 210.6L244.1 210.6L243.9 208.8L243.7 207.0L243.5 205.4L243.3 206.0L243.1 206.0L242.9 206.0L242.7 206.0L242.5 206.0L242.3 204.6L242.1 203.5L241.9 205.0L241.7 206.6L241.5 206.6L241.3 206.6L241.1 206.6L240.9 206.6L240.7 206.7L240.5 208.7L240.3 210.6L240.1 211.2L239.9 211.2L239.7 211.2L239.5 211.2L239.3 211.2L239.1 210.4L238.9 209.5L238.7 209.2L238.5 209.2L238.3 209.2L238.1 208.5L237.9 209.4L237.7 210.5L237.5 210.7L237.3 210.7L237.1 210.7L236.9 210.7L236.7 211.1L236.5 212.4L236.3 213.7L236.1 213.9L235.9 213.9L235.7 213.9L235.5 213.9L235.3 213.9L235.1 213.1L234.9 212.3L234.7 211.5L234.5 211.0L234.3 210.8L234.1 210.6L233.9 210.5L233.7 210.3L233.5 210.1L233.3 210.0L233.1 209.8L232.9 209.5L232.7 209.0L232.5 208.6L232.3 208.2L232.1 207.7L231.9 207.3L231.7 206.9L231.5 206.5L231.3 206.1L231.1 205.7L230.9 204.9L230.7 205.9L230.5 209.6L230.3 213.3L230.1 214.6L229.9 214.6L229.7 214.6L229.5 214.6L229.3 214.6L229.1 213.5L228.9 212.4L228.7 215.5L228.5 220.2L228.3 224.9L228.1 226.6L227.9 226.6L227.7 226.6L227.5 226.6L227.3 226.6L227.1 225.1L226.9 223.7L226.7 222.2L226.5 221.3L226.3 220.9L226.1 220.5L225.9 220.1L225.7 219.7L225.5 219.2L225.3 218.9L225.1 219.0L224.9 219.1L224.7 219.2L224.5 219.2L224.3 219.2L224.1 219.2L223.9 219.2L223.7 219.1L223.5 219.1L223.3 219.0L223.1 218.0L222.9 216.9L222.7 215.9L222.5 214.9L222.3 213.9L222.1 212.8L221.9 211.8L221.7 210.8L221.5 210.3L221.3 209.8L221.1 209.3L220.9 208.8L220.7 208.4L220.5 207.9L220.3 207.5L220.1 207.2L219.9 207.4L219.7 208.5L219.5 209.6L219.3 210.6L219.1 210.6L218.9 210.6L218.7 210.6L218.5 210.6L218.3 208.1L218.1 205.5L217.9 203.5L217.7 204.5L217.5 204.5L217.3 204.5L217.1 204.5L216.9 204.5L216.7 203.6L216.5 202.7L216.3 201.8L216.1 201.8L215.9 202.3L215.7 202.8L215.5 203.6L215.3 204.8L215.1 206.0L214.9 207.2L214.7 207.7L214.5 207.7L214.3 207.7L214.1 207.7L213.9 207.7L213.7 207.5L213.5 207.3L213.3 207.1L213.1 206.9L212.9 206.7L212.7 206.5L212.5 206.3L212.3 206.2L212.1 206.1L211.9 206.3L211.7 206.8L211.5 207.3L211.3 207.8L211.1 208.3L210.9 209.2L210.7 210.4L210.5 211.6L210.3 212.8L210.1 213.1L209.9 213.1L209.7 213.1L209.5 213.1L209.3 213.1L209.1 212.4L208.9 211.7L208.7 211.1L208.5 210.4L208.3 210.8L208.1 212.0L207.9 213.2L207.7 214.4L207.5 215.5L207.3 216.7L207.1 218.7L206.9 220.6L206.7 222.6L206.5 224.5L206.3 224.5L206.1 224.5L205.9 224.5L205.7 224.5L205.5 223.2L205.3 221.9L205.1 220.6L204.9 219.3L204.7 219.0L204.5 218.7L204.3 218.4L204.1 218.1L203.9 217.9L203.7 217.6L203.5 217.3L203.3 217.0L203.1 217.1L202.9 217.1L202.7 217.1L202.5 217.1L202.3 217.1L202.1 217.1L201.9 217.1L201.7 216.9L201.5 216.6L201.3 216.4L201.1 216.1L200.9 215.9L200.7 215.8L200.5 215.7L200.3 215.6L200.1 215.4L199.9 215.3L199.7 215.2L199.5 215.1L199.3 214.9L199.1 214.8L198.9 214.7L198.7 214.6L198.5 214.5L198.3 214.4L198.1 213.9L197.9 213.0L197.7 212.1L197.5 211.4L197.3 210.9L197.1 210.5L196.9 210.1L196.7 209.7L196.5 210.0L196.3 210.3L196.1 210.6L195.9 210.6L195.7 210.6L195.5 210.6L195.3 210.6L195.1 210.3L194.9 209.9L194.7 209.5L194.5 209.7L194.3 210.5L194.1 211.2L193.9 211.9L193.7 212.7L193.5 213.4L193.3 213.4L193.1 213.4L192.9 213.4L192.7 213.4L192.5 213.1L192.3 212.8L192.1 212.6L191.9 212.3L191.7 211.8L191.5 211.2L191.3 210.6L191.1 213.2L190.9 215.9L190.7 217.4L190.5 218.9L190.3 220.3L190.1 221.8L189.9 221.8L189.7 221.8L189.5 221.8L189.3 221.8L189.1 216.8L188.9 211.7L188.7 206.7L188.5 202.3L188.3 202.5L188.1 202.7L187.9 203.3L187.7 204.3L187.5 205.3L187.3 206.3L187.1 207.3L186.9 208.3L186.7 208.3L186.5 208.3L186.3 208.3L186.1 208.3L185.9 206.9L185.7 202.9L185.5 201.0L185.3 204.2L185.1 206.8L184.9 208.9L184.7 211.0L184.5 213.1L184.3 215.2L184.1 216.1L183.9 216.1L183.7 216.1L183.5 216.1L183.3 216.1L183.1 216.0L182.9 215.9L182.7 215.8L182.5 215.2L182.3 214.0L182.1 212.8L181.9 211.6L181.7 210.4L181.5 209.2L181.3 208.9L181.1 208.9L180.9 208.9L180.7 208.8L180.5 208.8L180.3 208.8L180.1 208.8L179.9 209.0L179.7 209.7L179.5 210.3L179.3 211.0L179.1 211.7L178.9 212.4L178.7 213.1L178.5 213.1L178.3 213.1L178.1 213.1L177.9 213.1L177.7 213.1L177.5 212.6L177.3 212.0L177.1 211.4L176.9 210.9L176.7 209.8L176.5 208.5L176.3 207.2L176.1 205.9L175.9 204.6L175.7 204.1L175.5 204.3L175.3 204.8L175.1 205.9L174.9 207.0L174.7 207.0L174.5 207.0L174.3 207.0L174.1 207.0L173.9 206.7L173.7 204.9L173.5 206.8L173.3 209.4L173.1 210.7L172.9 210.8L172.7 210.9L172.5 211.1L172.3 211.2L172.1 211.3L171.9 211.4L171.7 212.5L171.5 213.6L171.3 214.7L171.1 215.8L170.9 216.9L170.7 217.8L170.5 218.4L170.3 219.0L170.1 219.0L169.9 219.0L169.7 219.0L169.5 219.0L169.3 218.2L169.1 217.9L168.9 218.7L168.7 219.4L168.5 220.2L168.3 220.2L168.1 220.2L167.9 220.2L167.7 220.2L167.5 219.8L167.3 219.1L167.1 218.4L166.9 219.4L166.7 221.0L166.5 221.0L166.3 221.0L166.1 221.0L165.9 221.0L165.7 221.0L165.5 219.5L165.3 217.9L165.1 216.4L164.9 214.8L164.7 213.3L164.5 211.7L164.3 210.2L164.1 209.3L163.9 209.0L163.7 208.7L163.5 208.5L163.3 208.2L163.1 207.9L162.9 207.3L162.7 206.4L162.5 205.5L162.3 204.6L162.1 203.7L161.9 202.8L161.7 201.3L161.5 203.1L161.3 206.3L161.1 209.5L160.9 210.2L160.7 211.0L160.5 211.8L160.3 212.8L160.1 214.0L159.9 215.2L159.7 216.4L159.5 217.5L159.3 218.7L159.1 219.9L158.9 220.1L158.7 220.4L158.5 220.6L158.3 220.9L158.1 221.1L157.9 221.4L157.7 221.6L157.5 221.9L157.3 222.2L157.1 222.4L156.9 223.9L156.7 225.4L156.5 226.8L156.3 228.3L156.1 228.3L155.9 228.3L155.7 228.3L155.5 228.3L155.3 227.0L155.1 225.7L154.9 224.4L154.7 223.1L154.5 222.6L154.3 222.2L154.1 221.8L153.9 221.4L153.7 221.2L153.5 221.1L153.3 221.0L153.1 220.9L152.9 220.8L152.7 220.5L152.5 219.9L152.3 219.3L152.1 218.7L151.9 218.0L151.7 217.3L151.5 217.1L151.3 219.2L151.1 221.3L150.9 223.4L150.7 223.5L150.5 223.5L150.3 223.5L150.1 223.5L149.9 223.5L149.7 221.4L149.5 219.3L149.3 217.2L149.1 215.1L148.9 213.4L148.7 212.1L148.5 210.9L148.3 209.6L148.1 209.3L147.9 209.5L147.7 210.3L147.5 212.5L147.3 214.8L147.1 217.1L146.9 217.1L146.7 217.1L146.5 217.1L146.3 217.1L146.1 215.5L145.9 213.8L145.7 212.4L145.5 211.1L145.3 209.8L145.1 208.6L144.9 207.3L144.7 206.0L144.5 204.7L144.3 204.0L144.1 203.8L143.9 203.6L143.7 203.4L143.5 203.2L143.3 203.0L143.1 202.7L142.9 202.5L142.7 202.2L142.5 202.0L142.3 201.9L142.1 201.9L141.9 201.9L141.7 201.9L141.5 201.9L141.3 201.9L141.1 201.8L140.9 201.7L140.7 201.7L140.5 201.6L140.3 201.8L140.1 201.9L139.9 202.1L139.7 202.2L139.5 203.1L139.3 204.7L139.1 206.3L138.9 207.9L138.7 209.6L138.5 212.7L138.3 217.4L138.1 222.1L137.9 226.8L137.7 228.2L137.5 228.2L137.3 228.2L137.1 228.2L136.9 228.2L136.7 226.3L136.5 224.4L136.3 222.4L136.1 216.5L135.9 216.5L135.7 219.5L135.5 222.6L135.3 225.6L135.1 228.6L134.9 228.6L134.7 228.6L134.5 228.6L134.3 228.6L134.1 228.4L133.9 225.1L133.7 221.7L133.5 218.4L133.3 215.0L133.1 214.5L132.9 220.5L132.7 222.4L132.5 224.4L132.3 226.3L132.1 226.3L131.9 226.3L131.7 226.3L131.5 226.3L131.3 224.8L131.1 219.8L130.9 214.7L130.7 211.4L130.5 212.6L130.3 213.8L130.1 213.8L129.9 213.8L129.7 213.8L129.5 213.8L129.3 212.4L129.1 208.5L128.9 205.3L128.7 207.9L128.5 209.5L128.3 209.9L128.1 210.4L127.9 210.8L127.7 211.3L127.5 211.7L127.3 212.1L127.1 212.6L126.9 213.3L126.7 214.1L126.5 214.9L126.3 215.6L126.1 216.4L125.9 217.2L125.7 218.0L125.5 218.0L125.3 218.0L125.1 218.0L124.9 218.0L124.7 217.2L124.5 216.5L124.3 215.7L124.1 215.0L123.9 214.5L123.7 214.5L123.5 214.5L123.3 214.5L123.1 214.5L122.9 214.5L122.7 214.5L122.5 214.5L122.3 215.4L122.1 217.1L121.9 217.4L121.7 217.4L121.5 217.4L121.3 217.4L121.1 217.4L120.9 216.2L120.7 215.0L120.5 213.8L120.3 213.2L120.1 212.6L119.9 212.1L119.7 211.5L119.5 210.9L119.3 210.4L119.1 208.9L118.9 206.5L118.7 204.0L118.5 203.1L118.3 203.2L118.1 203.2L117.9 203.2L117.7 203.2L117.5 203.2L117.3 203.5L117.1 204.0L116.9 204.6L116.7 205.2L116.5 205.7L116.3 207.6L116.1 210.7L115.9 213.9L115.7 217.1L115.5 220.2L115.3 223.4L115.1 228.5L114.9 235.4L114.7 242.4L114.5 243.9L114.3 243.9L114.1 243.9L113.9 243.9L113.7 243.9L113.5 239.9L113.3 235.8L113.1 233.4L112.9 232.5L112.7 231.6L112.5 230.7L112.3 229.5L112.1 228.2L111.9 226.8L111.7 225.5L111.5 224.2L111.3 224.4L111.1 224.8L110.9 225.0L110.7 225.0L110.5 225.0L110.3 225.0L110.1 225.0L109.9 224.7L109.7 224.5L109.5 222.1L109.3 219.8L109.1 217.4L108.9 215.7L108.7 214.5L108.5 213.4L108.3 212.3L108.1 211.1L107.9 207.1L107.7 203.0L107.5 198.9L107.3 198.9L107.1 198.9L106.9 198.9L106.7 198.9L106.5 198.9L106.3 198.4L106.1 197.8L105.9 198.9L105.7 200.0L105.5 201.2L105.3 202.3L105.1 204.1L104.9 205.9L104.7 207.7L104.5 209.6L104.3 211.4L104.1 213.2L103.9 215.1L103.7 217.0L103.5 218.8L103.3 220.7L103.1 222.6L102.9 224.5L102.7 226.4L102.5 228.3L102.3 228.5L102.1 228.6L101.9 228.8L101.7 229.0L101.5 229.5L101.3 230.1L101.1 230.6L100.9 231.1L100.7 231.6L100.5 233.6L100.3 235.5L100.1 237.5L99.9 239.4L99.7 239.4L99.5 239.4L99.3 239.4L99.1 239.4L98.9 235.5L98.7 231.6L98.5 227.7L98.3 223.8L98.1 222.8L97.9 221.8L97.7 220.8L97.5 219.8L97.3 219.4L97.1 219.0L96.9 218.6L96.7 218.1L96.5 217.7L96.3 217.3L96.1 216.6L95.9 215.5L95.7 214.4L95.5 213.4L95.3 212.3L95.1 211.3L94.9 209.5L94.7 208.4L94.5 210.6L94.3 212.8L94.1 212.8L93.9 212.8L93.7 212.8L93.5 213.1L93.3 214.2L93.1 215.4L92.9 216.5L92.7 217.6L92.5 218.8L92.3 219.9L92.1 219.9L91.9 219.9L91.7 219.9L91.5 219.9L91.3 218.9L91.1 217.9L90.9 216.9L90.7 216.6L90.5 216.9L90.3 217.3L90.1 218.7L89.9 220.4L89.7 221.7L89.5 222.5L89.3 223.3L89.1 224.1L88.9 224.1L88.7 224.1L88.5 224.1L88.3 224.1L88.1 223.2L87.9 220.6L87.7 218.0L87.5 215.4L87.3 213.8L87.1 213.3L86.9 212.7L86.7 212.1L86.5 211.5L86.3 210.9L86.1 210.3L85.9 209.7L85.7 208.7L85.5 207.8L85.3 206.8L85.1 205.8L84.9 205.4L84.7 205.4L84.5 205.4L84.3 205.4L84.1 205.4L83.9 204.9L83.7 203.6L83.5 205.5L83.3 207.6L83.1 208.3L82.9 208.3L82.7 208.3L82.5 208.3L82.3 208.3L82.1 207.7L81.9 207.0L81.7 208.8L81.5 211.4L81.3 214.0L81.1 214.3L80.9 214.3L80.7 214.3L80.5 214.3L80.3 214.3L80.1 212.4L79.9 210.4L79.7 208.4L79.5 206.1L79.3 203.4L79.1 203.4L78.9 204.1L78.7 204.6L78.5 204.6L78.3 204.6L78.1 204.6L77.9 204.6L77.7 204.5L77.5 204.4L77.3 204.4L77.1 204.3L76.9 204.2L76.7 204.1L76.5 202.4L76.3 200.8L76.1 199.1L75.9 197.4L75.7 197.0L75.5 197.5L75.3 197.5L75.1 197.5L74.9 197.5L74.7 197.5L74.5 195.5L74.3 193.4L74.1 194.7L73.9 196.5L73.7 197.1L73.5 197.8L73.3 198.4L73.1 199.0L72.9 199.9L72.7 201.1L72.5 202.3L72.3 202.3L72.1 202.3Z" fill="#ff0000" stroke="#ff0000" stroke-width="0.9" stroke-linejoin="round"/>
<path d="M373.9 207.4L374.3 204.2L374.7 202.0L375.0 196.6L375.4 195.8L375.8 190.9L376.2 185.5L376.5 181.1L376.9 175.8L377.3 169.1L377.7 164.9L378.0 161.8L378.4 160.4L378.8 158.8L379.1 158.1L379.4 160.7L379.7 165.9L380.0 170.7L380.2 173.5L380.5 177.8L380.8 185.1L381.1 189.2L381.4 195.9L381.7 202.2L382.0 206.3L382.3 210.2L382.5 214.8L382.8 216.6L383.1 219.5L383.4 220.8L383.7 221.9L384.0 221.0L384.2 220.0L384.5 217.9L384.7 215.8L385.0 212.7L385.2 209.4L385.5 206.4L385.7 198.9L386.0 196.8L386.2 190.0L386.5 183.5L386.7 179.0L387.0 173.7L387.2 169.1L387.5 161.7L387.7 157.9L388.0 153.1L388.2 147.1L388.5 143.8L388.7 142.3L389.0 139.7L389.2 138.1L389.5 136.4L389.7 137.9L389.9 140.6L390.1 145.2L390.3 147.2L390.5 151.9L390.7 156.2L390.9 157.9L391.3 159.8L391.7 157.1L392.1 157.0L392.2 162.9L392.3 164.2L392.3 168.8L392.4 175.2L392.5 177.4L392.6 182.7L392.6 188.4L392.7 193.2L392.8 198.2L392.9 202.7L392.9 208.2L393.0 212.3L393.1 216.1L393.2 218.7L393.2 222.1L393.3 224.0L393.4 228.9L393.5 228.6L393.5 232.5L393.6 234.0L393.8 230.7L394.1 229.7L394.3 228.0L394.6 226.6L394.8 222.0L395.0 219.0L395.3 214.5L395.5 210.2L395.8 206.5L396.0 199.2L396.2 194.6L396.5 189.1L396.7 184.0L396.9 176.5L397.2 173.2L397.4 167.5L397.7 163.1L397.9 158.1L398.1 152.8L398.4 150.4L398.6 149.0L398.9 146.3L399.1 145.1L399.4 148.2L399.7 151.3L400.1 152.6L400.4 157.4L400.7 157.1L401.2 156.2L401.7 157.7L402.2 155.9L402.3 160.3L402.4 164.2L402.5 167.9L402.5 172.8L402.6 176.7L402.7 179.9L402.8 186.0L402.8 190.6L402.9 196.7L403.0 199.0L403.0 204.7L403.1 209.0L403.2 213.7L403.3 219.5L403.3 222.6L403.4 225.9L403.5 230.0L403.6 233.8L403.6 235.4L403.7 238.5L403.8 242.1L403.9 243.3L403.9 243.8L404.0 244.0L404.2 243.7L404.4 241.5L404.6 241.7L404.8 239.1L405.0 236.2L405.2 232.0L405.4 228.9L405.7 225.8L405.9 221.2L406.1 215.8L406.3 211.5L406.5 206.5L406.7 199.7L406.9 194.2L407.1 188.2L407.3 182.2L407.5 178.1L407.7 172.4L407.9 167.0L408.1 160.9L408.4 156.4L408.6 152.8L408.8 148.7L409.0 145.7L409.2 142.1L409.4 140.7L409.6 139.7L409.8 138.4L410.0 139.9L410.3 141.4L410.5 145.2L410.8 147.7L411.0 152.2L411.3 154.6L411.5 157.7L412.1 156.6L412.6 156.5L413.1 155.2L413.2 158.9L413.3 162.0L413.4 167.0L413.4 170.3L413.5 176.7L413.6 180.1L413.7 185.0L413.8 189.6L413.8 193.3L413.9 198.2L414.0 203.9L414.1 209.6L414.1 212.4L414.2 217.0L414.3 221.7L414.4 224.5L414.5 228.2L414.5 232.4L414.6 235.6L414.7 238.0L414.8 241.4L414.8 242.0L414.9 243.6L415.0 245.0L415.2 244.5L415.4 241.2L415.6 240.4L415.8 239.4L416.0 235.3L416.2 232.6L416.4 229.0L416.5 225.2L416.7 221.2L416.9 217.6L417.1 213.5L417.3 208.5L417.5 202.3L417.7 195.5L417.9 191.1L418.1 185.3L418.3 180.1L418.5 174.2L418.7 167.7L418.9 163.9L419.1 157.3L419.3 153.4L419.4 149.6L419.6 145.6L419.8 142.7L420.0 137.1L420.2 135.9L420.4 133.8L420.6 131.4L420.8 131.0L421.0 131.5L421.2 135.3L421.3 138.6L421.5 141.5L421.7 145.7L421.9 149.9L422.1 153.4L422.3 157.9L422.7 156.3L423.2 155.8L423.6 154.6L423.7 157.8L423.7 161.6L423.8 165.4L423.8 169.7L423.9 174.2L424.0 179.3L424.0 183.3L424.1 188.6L424.1 193.4L424.2 197.9L424.2 202.9L424.3 208.6L424.4 213.5L424.4 216.9L424.5 221.9L424.5 226.3L424.6 230.7L424.6 235.8L424.7 239.2L424.7 243.2L424.8 246.8L424.9 248.7L424.9 251.5L425.0 254.0L425.0 256.5L425.1 257.5L425.1 259.0L425.2 259.8L425.3 259.3L425.5 258.0L425.6 255.8L425.7 253.6L425.8 252.7L426.0 249.7L426.1 245.9L426.2 242.8L426.3 239.0L426.5 234.3L426.6 230.9L426.7 225.6L426.8 220.9L427.0 216.2L427.1 210.4L427.2 205.2L427.4 199.6L427.5 193.7L427.6 188.1L427.7 183.4L427.9 176.8L428.0 172.4L428.1 165.9L428.2 161.8L428.4 156.8L428.5 151.9L428.6 146.9L428.7 145.2L428.9 140.4L429.0 137.5L429.1 135.5L429.2 133.3L429.4 131.7L429.5 130.5L429.8 131.4L430.1 135.2L430.3 137.7L430.6 142.0L430.9 146.0L431.2 150.1L431.4 153.2L431.7 156.6L432.4 155.4L433.1 153.4L433.8 152.7L433.9 156.4L433.9 160.4L434.0 165.0L434.1 169.1L434.2 174.3L434.3 178.7L434.4 181.9L434.4 187.4L434.5 191.7L434.6 197.1L434.7 201.8L434.8 206.9L434.8 211.5L434.9 216.5L435.0 220.7L435.1 224.4L435.2 229.5L435.2 234.0L435.3 238.3L435.4 242.1L435.5 246.9L435.6 249.6L435.6 253.4L435.7 255.7L435.8 259.1L435.9 260.2L436.0 262.8L436.0 263.5L436.1 265.3L436.2 266.2L436.3 264.5L436.4 263.9L436.5 262.9L436.6 261.0L436.7 258.5L436.8 257.0L436.9 253.8L437.0 251.1L437.1 247.3L437.3 242.9L437.4 239.1L437.5 235.4L437.6 229.6L437.7 225.1L437.8 220.4L437.9 215.2L438.0 209.7L438.1 203.2L438.2 198.9L438.3 192.3L438.4 186.6L438.5 181.0L438.6 175.3L438.7 169.5L438.8 164.4L438.9 159.8L439.0 153.9L439.1 148.8L439.3 145.4L439.4 141.2L439.5 137.4L439.6 134.2L439.7 130.1L439.8 127.6L439.9 125.3L440.0 123.5L440.1 121.8L440.2 120.2L440.4 121.5L440.6 124.5L440.8 127.4L441.0 132.1L441.2 135.7L441.4 139.9L441.6 144.0L441.8 148.9L442.0 152.4L442.2 155.9L442.8 154.9L443.5 153.3L444.1 152.2L444.2 156.3L444.3 159.8L444.3 164.2L444.4 168.4L444.5 173.1L444.5 177.4L444.6 181.9L444.7 186.4L444.8 191.5L444.8 195.9L444.9 201.3L445.0 206.0L445.1 211.0L445.1 215.5L445.2 220.2L445.3 224.8L445.3 230.0L445.4 234.0L445.5 238.2L445.6 241.7" stroke="#ff0000" stroke-width="3.3" fill="none" stroke-linejoin="round" stroke-linecap="round"/>
<path d="M444.5 173.1L444.5 177.4L444.6 181.9L444.7 186.4L444.8 191.5L444.8 195.9L444.9 201.3L445.0 206.0L445.1 211.0L445.1 215.5L445.2 220.2L445.3 224.8L445.3 230.0L445.4 234.0L445.5 238.2L445.6 241.7L445.6 246.0L445.7 248.5L445.8 253.2L445.9 255.7L445.9 258.3L446.0 260.2L446.1 262.2L446.2 264.2L446.2 265.0L446.3 265.7L446.4 265.5L446.5 264.3L446.7 262.2L446.8 260.6L446.9 258.3L447.0 255.8L447.1 252.5L447.3 249.2L447.4 245.8L447.5 241.8L447.6 237.8L447.7 232.9L447.9 228.4L448.0 222.4L448.1 217.1L448.2 212.0L448.3 206.2L448.5 200.2L448.6 194.9L448.7 189.1L448.8 183.4L448.9 177.3L449.0 171.8L449.2 166.5L449.3 161.3L449.4 156.6L449.5 151.5L449.6 147.3L449.8 142.6L449.9 139.6L450.0 136.5L450.1 133.1L450.2 130.7L450.4 127.9L450.5 126.6L450.6 125.3L450.8 127.3L451.1 129.9L451.3 132.7L451.5 136.5L451.8 140.5L452.0 145.1L452.2 148.5L452.5 152.3L452.7 155.8L453.2 154.2L453.7 152.5L454.2 150.7L454.3 154.8L454.4 159.3L454.5 163.2L454.6 167.5L454.7 171.8L454.8 176.6L454.8 181.3L454.9 186.0L455.0 191.1L455.1 195.8L455.2 200.8L455.3 206.0L455.4 210.9L455.5 216.0L455.5 220.7L455.6 225.6L455.7 230.5L455.8 235.1L455.9 239.8L456.0 244.0L456.1 248.1L456.1 252.1L456.2 255.9L456.3 259.0L456.4 262.3L456.5 265.2L456.6 268.0L456.7 269.9L456.7 272.0L456.8 273.2L456.9 274.4L457.0 275.1L457.1 274.4L457.2 273.7L457.3 272.0L457.4 270.6L457.5 268.6L457.6 266.3L457.8 263.4L457.9 260.7L458.0 257.0L458.1 253.8L458.2 249.8L458.3 245.7L458.4 241.1L458.5 236.2L458.6 231.4L458.7 226.2L458.8 221.0L458.9 215.4L459.0 209.9L459.1 204.2L459.3 198.6L459.4 192.4L459.5 186.8L459.6 181.2L459.7 175.6L459.8 169.9L459.9 164.5L460.0 159.3L460.1 154.3L460.2 149.4L460.3 144.8L460.4 140.5L460.5 136.5L460.6 133.0L460.8 129.3L460.9 126.4L461.0 123.8L461.1 121.2L461.2 119.4L461.3 117.6L461.4 116.9L461.6 118.1L461.8 120.5L462.0 123.8L462.2 127.6L462.4 131.3L462.6 135.5L462.8 139.6L463.0 143.8L463.2 148.0L463.4 151.8L463.6 155.5L464.1 153.7L464.6 151.7L465.2 149.8L465.3 153.8L465.3 158.0L465.4 162.1L465.5 166.4L465.6 171.0L465.7 175.6L465.8 180.2L465.9 185.0L466.0 189.9L466.0 194.8L466.1 199.8L466.2 204.7L466.3 209.6L466.4 214.7L466.5 219.6L466.6 224.4L466.7 229.2L466.8 233.9L466.8 238.4L466.9 242.8L467.0 246.9L467.1 250.9L467.2 254.6L467.3 258.0L467.4 261.2L467.5 264.0L467.6 266.6L467.6 268.9L467.7 270.7L467.8 272.1L467.9 273.2L468.0 273.7L468.1 273.3L468.2 272.4L468.3 271.1L468.4 269.5L468.5 267.5L468.5 265.2L468.6 262.6L468.7 259.6L468.8 256.4L468.9 252.8L469.0 249.0L469.1 244.9L469.2 240.5L469.3 235.8L469.4 230.9L469.4 225.8L469.5 220.5L469.6 215.1L469.7 209.5L469.8 203.8L469.9 198.1L470.0 192.3L470.1 186.5L470.2 180.7L470.3 175.0L470.4 169.4L470.4 163.9L470.5 158.5L470.6 153.3L470.7 148.4L470.8 143.6L470.9 139.1L471.0 134.8L471.1 130.9L471.2 127.2L471.3 123.8L471.3 120.7L471.4 118.0L471.5 115.6L471.6 113.6L471.7 112.1L471.8 111.2L472.0 112.5L472.1 114.7L472.3 117.5L472.4 120.8L472.6 124.4L472.8 128.2L472.9 132.2L473.1 136.2L473.3 140.2L473.4 144.2L473.6 148.0L473.7 151.7L473.9 155.2L474.4 153.1L474.9 150.9L475.4 148.8L475.5 152.7L475.6 156.8L475.7 160.9L475.8 165.2L475.9 169.7L476.0 174.2L476.0 178.9L476.1 183.6L476.2 188.4L476.3 193.3L476.4 198.2L476.5 203.1L476.6 208.1L476.7 213.0L476.7 217.9L476.8 222.7L476.9 227.4L477.0 232.0L477.1 236.5L477.2 240.8L477.3 244.9L477.3 248.8L477.4 252.5L477.5 255.9L477.6 259.0L477.7 261.8L477.8 264.4L477.9 266.6L477.9 268.4L478.0 269.9L478.1 270.9L478.2 271.4L478.3 271.0L478.4 270.1L478.5 268.8L478.6 267.1L478.7 265.1L478.8 262.7L478.9 260.1L479.0 257.1L479.1 253.8L479.2 250.1L479.3 246.2L479.4 242.0L479.5 237.5L479.6 232.8L479.7 227.8L479.8 222.6L479.9 217.3L480.0 211.8L480.1 206.1L480.2 200.4L480.2 194.6L480.3 188.8L480.4 183.1L480.5 177.3L480.6 171.7L480.7 166.1L480.8 160.7L480.9 155.4L481.0 150.4L481.1 145.6L481.2 141.0L481.3 136.7L481.4 132.6L481.5 128.9L481.6 125.5L481.7 122.3L481.8 119.6L481.9 117.2L482.0 115.2L482.1 113.6L482.2 112.7L482.4 114.1L482.6 116.5L482.8 119.5L482.9 123.0L483.1 126.9L483.3 130.9L483.5 135.1L483.7 139.3L483.9 143.5L484.0 147.5L484.2 151.3L484.4 155.0L484.9 152.6L485.5 150.3L486.0 147.9L486.1 151.8L486.2 155.8L486.3 159.9L486.3 164.2L486.4 168.5L486.5 173.0L486.6 177.6L486.7 182.3L486.8 187.0L486.8 191.8L486.9 196.7L487.0 201.6L487.1 206.5L487.2 211.4L487.3 216.3L487.3 221.2L487.4 226.0L487.5 230.8L487.6 235.4L487.7 240.0L487.7 244.4L487.8 248.6L487.9 252.7L488.0 256.6L488.1 260.3L488.2 263.7L488.2 266.9L488.3 269.9L488.4 272.5L488.5 274.9L488.6 277.0L488.7 278.7L488.7 280.1L488.8 281.0L488.9 281.5L489.0 281.1L489.1 280.2L489.2 279.0L489.3 277.5L489.4 275.6L489.5 273.4L489.6 271.0L489.7 268.2L489.8 265.1L489.9 261.8L490.0 258.1L490.0 254.2L490.1 250.1L490.2 245.6L490.3 241.0L490.4 236.1L490.5 231.1L490.6 225.8L490.7 220.4L490.8 214.9L490.9 209.2L491.0 203.5L491.1 197.8L491.2 192.0L491.3 186.2L491.4 180.5L491.5 174.8L491.6 169.2L491.7 163.7L491.8 158.4L491.9 153.2L492.0 148.2L492.1 143.4L492.1 138.9L492.2 134.5L492.3 130.5L492.4 126.7L492.5 123.1L492.6 119.9L492.7 117.0L492.8 114.3L492.9 112.1L493.0 110.2L493.1 108.7L493.2 107.8L493.4 109.2L493.5 111.5L493.7 114.5L493.8 118.0L494.0 121.9L494.2 126.0L494.3 130.2L494.5 134.5L494.7 138.8L494.8 143.1L495.0 147.2L495.1 151.1L495.3 154.8L495.8 152.3L496.3 149.8L496.8 147.3L496.9 151.2L497.0 155.3L497.1 159.4L497.2 163.7L497.3 168.1L497.3 172.7L497.4 177.3L497.5 182.0L497.6 186.8L497.7 191.6L497.7 196.5L497.8 201.4L497.9 206.4L498.0 211.3L498.1 216.2L498.1 221.1L498.2 225.9L498.3 230.7L498.4 235.3L498.5 239.8L498.5 244.1L498.6 248.3L498.7 252.3L498.8 256.1L498.9 259.6L499.0 262.9L499.0 265.9L499.1 268.6L499.2 271.0L499.3 273.2L499.4 274.9L499.4 276.3L499.5 277.3L499.6 277.8L499.7 277.4L499.8 276.5L499.9 275.3L500.0 273.7L500.1 271.8L500.1 269.6L500.2 267.1L500.3 264.3L500.4 261.1L500.5 257.7L500.6 254.0" stroke="#ff0000" stroke-width="3.0" fill="none" stroke-linejoin="round" stroke-linecap="round"/>
<path d="M499.4 276.3L499.5 277.3L499.6 277.8L499.7 277.4L499.8 276.5L499.9 275.3L500.0 273.7L500.1 271.8L500.1 269.6L500.2 267.1L500.3 264.3L500.4 261.1L500.5 257.7L500.6 254.0L500.7 250.0L500.8 245.8L500.9 241.3L501.0 236.5L501.1 231.6L501.1 226.5L501.2 221.1L501.3 215.7L501.4 210.1L501.5 204.4L501.6 198.7L501.7 192.9L501.8 187.1L501.9 181.3L502.0 175.6L502.1 170.0L502.1 164.5L502.2 159.1L502.3 153.8L502.4 148.8L502.5 143.9L502.6 139.3L502.7 134.9L502.8 130.8L502.9 126.9L503.0 123.3L503.1 120.1L503.1 117.1L503.2 114.4L503.3 112.1L503.4 110.2L503.5 108.7L503.6 107.8L503.8 109.2L503.9 111.5L504.1 114.5L504.3 118.0L504.5 121.8L504.6 125.9L504.8 130.2L505.0 134.5L505.1 138.8L505.3 143.0L505.5 147.1L505.6 151.0L505.8 154.7L506.3 152.1L506.9 149.4L507.4 146.8L507.5 150.7L507.6 154.7L507.7 158.8L507.7 163.0L507.8 167.3L507.9 171.8L508.0 176.3L508.1 180.9L508.2 185.6L508.2 190.4L508.3 195.2L508.4 200.1L508.5 205.0L508.6 209.9L508.7 214.8L508.7 219.6L508.8 224.4L508.9 229.1L509.0 233.7L509.1 238.3L509.1 242.6L509.2 246.9L509.3 250.9L509.4 254.8L509.5 258.4L509.6 261.9L509.6 265.1L509.7 268.0L509.8 270.6L509.9 273.0L510.0 275.0L510.1 276.7L510.1 278.1L510.2 279.0L510.3 279.5L510.4 279.1L510.5 278.2L510.6 277.0L510.7 275.4L510.8 273.5L510.9 271.3L511.0 268.7L511.0 265.9L511.1 262.8L511.2 259.3L511.3 255.6L511.4 251.6L511.5 247.4L511.6 242.8L511.7 238.1L511.8 233.1L511.9 228.0L512.0 222.6L512.1 217.2L512.2 211.6L512.3 205.9L512.4 200.1L512.4 194.3L512.5 188.5L512.6 182.7L512.7 177.0L512.8 171.3L512.9 165.8L513.0 160.4L513.1 155.1L513.2 150.0L513.3 145.2L513.4 140.5L513.5 136.1L513.6 132.0L513.7 128.1L513.7 124.5L513.8 121.2L513.9 118.2L514.0 115.6L514.1 113.2L514.2 111.3L514.3 109.8L514.4 108.9L514.6 110.2L514.8 112.5L514.9 115.4L515.1 118.8L515.3 122.6L515.5 126.5L515.6 130.7L515.8 134.9L516.0 139.0L516.2 143.2L516.3 147.1L516.5 151.0L516.7 154.6L517.1 152.5L517.5 150.4L517.9 148.4L518.3 146.3L518.4 150.2L518.5 154.2L518.6 158.4L518.7 162.7L518.7 167.0L518.8 171.5L518.9 176.1L519.0 180.8L519.1 185.6L519.2 190.4L519.2 195.3L519.3 200.2L519.4 205.1L519.5 210.1L519.6 215.0L519.7 220.0L519.7 224.9L519.8 229.7L519.9 234.4L520.0 239.1L520.1 243.6L520.1 248.0L520.2 252.2L520.3 256.3L520.4 260.1L520.5 263.8L520.6 267.2L520.6 270.3L520.7 273.2L520.8 275.9L520.9 278.2L521.0 280.2L521.1 281.9L521.1 283.3L521.2 284.2L521.3 284.7L521.4 284.3L521.5 283.4L521.6 282.2L521.7 280.6L521.8 278.7L521.9 276.5L522.0 274.0L522.1 271.2L522.2 268.1L522.3 264.7L522.4 261.1L522.5 257.1L522.6 252.9L522.7 248.4L522.8 243.7L522.9 238.8L523.0 233.6L523.1 228.3L523.2 222.9L523.3 217.3L523.4 211.6L523.5 205.8L523.5 200.0L523.6 194.1L523.7 188.3L523.8 182.5L523.9 176.7L524.0 171.0L524.1 165.5L524.2 160.1L524.3 154.9L524.4 149.8L524.5 145.0L524.6 140.4L524.7 136.0L524.8 131.8L524.9 128.0L525.0 124.4L525.1 121.1L525.2 118.2L525.3 115.5L525.4 113.2L525.5 111.3L525.6 109.8L525.7 108.9L525.9 110.2L526.0 112.5L526.2 115.4L526.4 118.8L526.5 122.5L526.7 126.5L526.9 130.6L527.0 134.8L527.2 139.0L527.4 143.1L527.5 147.0L527.7 150.8L527.9 154.4L528.3 152.3L528.7 150.1L529.1 147.9L529.5 145.7L529.5 149.6L529.6 153.6L529.7 157.7L529.8 162.0L529.9 166.3L529.9 170.8L530.0 175.3L530.1 179.9L530.2 184.7L530.3 189.5L530.3 194.3L530.4 199.2L530.5 204.1L530.6 209.0L530.6 213.9L530.7 218.8L530.8 223.6L530.9 228.4L531.0 233.1L531.0 237.7L531.1 242.2L531.2 246.6L531.3 250.8L531.4 254.8L531.4 258.6L531.5 262.2L531.6 265.6L531.7 268.7L531.7 271.6L531.8 274.2L531.9 276.5L532.0 278.6L532.1 280.2L532.1 281.6L532.2 282.5L532.3 283.0L532.4 282.6L532.5 281.8L532.6 280.6L532.7 279.1L532.8 277.2L532.9 275.1L533.0 272.7L533.1 270.0L533.2 267.0L533.3 263.7L533.4 260.2L533.5 256.4L533.6 252.3L533.7 248.0L533.8 243.4L533.9 238.7L534.0 233.7L534.1 228.5L534.2 223.2L534.3 217.8L534.4 212.2L534.5 206.6L534.6 200.9L534.7 195.2L534.8 189.4L534.9 183.7L535.0 178.0L535.1 172.4L535.2 166.9L535.3 161.5L535.4 156.2L535.5 151.2L535.6 146.3L535.7 141.6L535.8 137.1L535.9 132.8L536.0 128.8L536.1 125.1L536.2 121.7L536.3 118.5L536.4 115.6L536.5 113.0L536.6 110.8L536.7 108.9L536.8 107.5L536.9 106.6L537.1 108.0L537.2 110.4L537.4 113.4L537.5 117.0L537.7 120.9L537.9 125.0L538.0 129.3L538.2 133.7L538.4 138.1L538.5 142.4L538.7 146.5L538.8 150.5L539.0 154.3L539.4 152.0L539.8 149.7L540.2 147.4L540.5 145.2L540.6 149.0L540.7 153.1L540.8 157.2L540.8 161.4L540.9 165.8L541.0 170.2L541.1 174.8L541.1 179.4L541.2 184.1L541.3 188.9L541.4 193.8L541.4 198.6L541.5 203.6L541.6 208.5L541.7 213.4L541.7 218.3L541.8 223.2L541.9 228.0L542.0 232.8L542.0 237.5L542.1 242.1L542.2 246.5L542.3 250.8L542.3 254.9L542.4 258.9L542.5 262.7L542.6 266.2L542.6 269.6L542.7 272.7L542.8 275.5L542.9 278.1L542.9 280.3L543.0 282.3L543.1 284.0L543.2 285.3L543.2 286.3L543.3 286.7L543.4 286.3L543.5 285.5L543.6 284.3L543.7 282.8L543.8 280.9L543.9 278.8L544.0 276.4L544.1 273.7L544.2 270.7L544.3 267.5L544.4 263.9L544.6 260.1L544.7 256.0L544.8 251.7L544.9 247.2L545.0 242.4L545.1 237.4L545.2 232.3L545.3 226.9L545.4 221.5L545.5 215.9L545.6 210.2L545.7 204.4L545.8 198.6L545.9 192.8L546.0 187.0L546.1 181.2L546.2 175.4L546.3 169.8L546.4 164.2L546.5 158.8L546.6 153.5L546.7 148.4L546.8 143.5L546.9 138.8L547.1 134.3L547.2 130.0L547.3 126.0L547.4 122.3L547.5 118.8L547.6 115.6L547.7 112.7L547.8 110.2L547.9 107.9L548.0 106.0L548.1 104.6L548.2 103.7L548.3 105.0L548.5 107.3L548.6 110.2L548.8 113.5L548.9 117.3L549.1 121.3L549.2 125.4L549.4 129.7L549.5 134.0L549.6 138.3L549.8 142.5L549.9 146.6L550.1 150.4L550.2 154.1L550.6 151.8L550.9 149.4L551.3 147.0L551.7 144.6L551.7 148.4L551.8 152.4L551.9 156.5L552.0 160.7L552.0 165.0L552.1 169.4L552.2 173.9L552.2 178.5L552.3 183.2L552.4 187.9L552.5 192.7L552.5 197.5L552.6 202.4L552.7 207.3L552.7 212.2L552.8 217.0L552.9 221.9L553.0 226.6L553.0 231.4L553.1 236.0L553.2 240.5L553.2 244.9L553.3 249.2L553.4 253.3L553.4 257.2L553.5 260.9L553.6 264.5L553.7 267.7L553.7 270.8L553.8 273.6L553.9 276.2L553.9 278.4L554.0 280.4L554.1 282.0L554.2 283.3L554.2 284.3L554.3 284.7L554.4 284.3L554.5 283.5L554.6 282.3L554.7 280.8L554.8 279.0L554.9 276.9L555.0 274.5L555.1 271.8L555.2 268.8L555.3 265.5L555.4 262.0L555.6 258.2L555.7 254.2L555.8 249.9L555.9 245.3L556.0 240.6L556.1 235.6L556.2 230.5L556.3 225.2L556.4 219.8L556.5 214.2L556.6 208.5L556.7 202.8L556.8 197.0L556.9 191.2L557.0 185.4L557.1 179.6L557.2 173.9L557.3 168.3L557.4 162.7L557.5 157.3L557.6 152.1L557.7 147.0L557.8 142.1L557.9 137.4L558.1 132.9L558.2 128.7L558.3 124.7L558.4 121.0L558.5 117.5L558.6 114.4L558.7 111.5L558.8 108.9L558.9 106.7L559.0 104.8L559.1 103.4L559.2 102.5L559.3 103.8L559.5 106.2L559.6 109.1L559.7 112.5L559.9 116.4L560.0 120.4L560.2 124.7L560.3 129.1L560.4 133.5L560.6 137.8L560.7 142.1L560.8 146.3L561.0 150.2L561.1 154.0L561.5 151.5L561.8 149.0L562.2 146.5L562.5 144.0L562.6 148.0L562.6 152.0L562.7 156.1L562.8 160.4L562.8 164.8L562.9 169.2L563.0 173.8L563.0 178.5L563.1 183.2L563.2 188.0L563.2 192.9L563.3 197.8L563.4 202.7L563.4 207.7L563.5 212.7L563.6 217.6L563.6 222.6L563.7 227.4L563.8 232.3L563.8 237.0L563.9 241.7L563.9 246.3L564.0 250.7L564.1 255.0L564.1 259.1L564.2 263.0L564.3 266.7L564.3 270.3L564.4 273.6L564.5 276.6L564.5 279.4L564.6 282.0L564.7 284.2L564.7 286.2L564.8 287.8L564.9 289.1L564.9 290.1L565.0 290.5L565.1 290.1L565.2 289.3L565.3 288.1L565.4 286.6L565.6 284.8L565.7 282.7L565.8 280.3L565.9 277.7L566.0 274.7L566.1 271.5L566.2 268.0L566.3 264.2L566.4 260.2L566.5 255.9L566.7 251.4L566.8 246.7L566.9 241.8L567.0 236.7L567.1 231.4L567.2 226.0L567.3 220.4L567.4 214.7L567.5 209.0L567.6 203.1L567.8 197.3L567.9 191.4L568.0 185.6L568.1 179.8L568.2 174.1L568.3 168.4L568.4 162.9L568.5 157.5L568.6 152.2L568.8 147.1L568.9 142.3L569.0 137.6L569.1 133.1L569.2 128.9L569.3 125.0L569.4 121.2L569.5 117.8L569.6 114.6L569.7 111.8L569.9 109.2L570.0 107.0L570.1 105.1L570.2 103.7L570.3 102.8L570.4 104.1L570.6 106.4L570.7 109.4L570.9 112.8L571.0 116.6L571.1 120.6L571.3 124.9L571.4 129.2L571.6 133.6L571.7 137.9L571.9 142.2L572.0 146.3L572.1 150.2L572.3 154.0L572.6 151.5L573.0 149.0L573.4 146.5L573.7 144.0L573.8 147.9L573.8 152.0L573.9 156.2L574.0 160.5L574.0 164.8L574.1 169.3L574.2 173.9L574.2 178.6L574.3 183.3L574.4 188.1L574.4 193.0L574.5 197.9L574.6 202.9L574.6 207.9L574.7 212.9L574.8 217.9L574.8 222.9L574.9 227.9L574.9 232.8L575.0 237.7L575.1 242.5L575.1 247.2L575.2 251.8L575.3 256.3L575.3 260.6L575.4 264.8L575.5 268.9L575.5 272.7L575.6 276.4L575.7 279.8L575.7 283.0L575.8 286.0L575.8 288.7L575.9 291.2L576.0 293.4L576.0 295.3L576.1 296.9L576.2 298.2L576.2 299.1L576.3 299.5L576.4 299.1L576.5 298.3L576.6 297.2L576.7 295.7L576.8 294.0L576.9 292.0L577.0 289.7L577.1 287.1L577.2 284.3L577.3 281.2L577.4 277.8L577.5 274.2L577.6 270.4L577.7 266.3L577.8 261.9L577.9 257.4L578.0 252.6L578.1 247.7L578.2 242.5L578.3 237.3L578.4 231.8L578.5 226.3L578.6 220.7L578.7 214.9L578.8 209.2L578.9 203.4L579.0 197.5L579.1 191.7L579.2 186.0L579.3 180.3L579.4 174.6L579.5 169.1L579.6 163.7L579.7 158.4L579.8 153.3L579.9 148.4L580.0 143.7L580.1 139.1L580.2 134.8L580.3 130.7L580.4 126.9L580.5 123.3L580.6 120.0L580.7 116.9L580.8 114.1L580.9 111.7L581.0 109.5L581.1 107.7L581.2 106.2L581.3 105.4L581.5 106.7L581.6 108.9L581.8 111.6L581.9 114.9L582.1 118.5L582.2 122.3L582.4 126.4L582.5 130.5L582.7 134.6L582.8 138.7L583.0 142.8L583.1 146.7L583.3 150.4L583.4 154.0L583.8 151.5L584.2 149.0L584.6 146.5L584.9 144.0L585.0 147.9L585.1 151.9L585.1 156.0L585.2 160.3L585.3 164.6L585.4 169.0L585.4 173.5L585.5 178.1L585.6 182.8L585.6 187.6L585.7 192.4L585.8 197.3L585.8 202.2L585.9 207.1L586.0 212.1L586.0 217.0L586.1 222.0L586.2 226.9L586.2 231.8L586.3 236.7L586.4 241.5L586.4 246.2L586.5 250.8L586.6 255.3L586.6 259.7L586.7 263.9L586.8 268.0L586.8 272.0L586.9 275.7L587.0 279.3L587.0 282.6L587.1 285.7L587.2 288.6L587.2 291.3L587.3 293.7L587.4 295.8L587.4 297.7L587.5 299.2L587.6 300.5L587.6 301.4L587.7 301.8L587.8 301.4L587.9 300.6L588.0 299.5L588.1 298.0L588.2 296.3L588.3 294.2L588.3 291.9L588.4 289.3L588.5 286.5L588.6 283.3L588.7 280.0L588.8 276.3L588.9 272.4L589.0 268.3L589.1 263.9L589.2 259.3L589.3 254.5L589.4 249.5L589.4 244.4L589.5 239.0L589.6 233.6L589.7 228.0L589.8 222.3L589.9 216.5L590.0 210.7L590.1 204.8L590.2 198.9L590.3 193.1L590.4 187.3L590.5 181.5L590.6 175.8L590.6 170.3L590.7 164.8L590.8 159.5L590.9 154.4L591.0 149.4L591.1 144.6L591.2 140.0L591.3 135.7L591.4 131.6L591.5 127.7L591.6 124.1L591.7 120.7L591.7 117.6L591.8 114.8L591.9 112.3L592.0 110.1L592.1 108.3L592.2 106.8L592.3 106.0L592.5 107.3L592.6 109.4L592.8 112.2L592.9 115.4L593.1 118.9L593.2 122.7L593.4 126.7L593.5 130.8L593.7 134.9L593.9 138.9L594.0 142.9L594.2 146.8L594.3 150.5L594.5 154.0L594.9 151.5L595.3 149.0L595.7 146.5L596.1 144.0L596.1 148.0L596.2 152.0L596.3 156.2L596.3 160.5L596.4 164.9L596.5 169.3L596.5 173.9L596.6 178.6L596.7 183.3L596.8 188.1L596.8 193.0L596.9 197.9L597.0 202.9L597.0 207.9L597.1 212.9L597.2 217.9L597.2 223.0L597.3 228.0L597.4 232.9L597.4 237.8L597.5 242.7L597.6 247.5L597.7 252.2L597.7 256.7L597.8 261.2L597.9 265.5L597.9 269.6L598.0 273.6L598.1 277.4L598.1 281.0L598.2 284.4L598.3 287.5L598.3 290.5L598.4 293.2L598.5 295.6L598.6 297.8L598.6 299.6L598.7 301.2L598.8 302.5L598.8 303.4L598.9 303.8L599.0 303.4L599.1 302.6L599.2 301.5L599.3 300.1L599.4 298.4L599.5 296.4L599.5 294.2L599.6 291.7L599.7 288.9L599.8 285.8L599.9 282.5L600.0 279.0L600.1 275.2L600.2 271.1L600.3 266.9L600.4 262.4L600.5 257.7L600.6 252.9L600.7 247.8L600.7 242.6L600.8 237.2L600.9 231.8L601.0 226.2L601.1 220.5L601.2 214.8L601.3 209.0L601.4 203.2L601.5 197.4L601.6 191.6L601.7 185.9L601.8 180.2L601.8 174.6L601.9 169.2L602.0 163.8L602.1 158.6L602.2 153.6L602.3 148.7L602.4 144.0L602.5 139.6L602.6 135.3L602.7 131.3L602.8 127.5L602.9 124.0L603.0 120.7L603.0 117.7L603.1 114.9L603.2 112.5L603.3 110.3L603.4 108.5L603.5 107.1L603.6 106.3L603.8 107.7L603.9 110.1L604.1 113.1L604.3 116.7L604.4 120.6L604.6 124.7L604.8 129.0L604.9 133.4L605.1 137.8L605.3 142.1L605.4 146.2L605.6 150.2L605.8 154.0L606.2 151.5L606.6 149.0L607.0 146.5L607.4 144.0L607.4 148.0L607.5 152.0L607.6 156.2L607.6 160.5L607.7 164.9L607.8 169.3L607.8 173.9L607.9 178.6L608.0 183.3L608.1 188.1L608.1 193.0L608.2 197.9L608.3 202.9L608.3 207.9L608.4 212.9L608.5 217.9L608.5 223.0L608.6 228.0L608.7 232.9L608.7 237.8L608.8 242.7L608.9 247.5L609.0 252.2L609.0 256.7L609.1 261.2L609.2 265.5L609.2 269.6L609.3 273.6L609.4 277.4L609.4 281.0L609.5 284.4L609.6 287.5L609.6 290.5L609.7 293.2L609.8 295.6L609.9 297.8L609.9 299.6L610.0 301.2L610.1 302.5L610.1 303.4L610.2 303.8L610.3 303.4L610.4 302.7L610.5 301.6L610.6 300.2L610.6 298.5L610.7 296.6L610.8 294.4L610.9 291.9L611.0 289.2L611.1 286.2L611.2 283.0L611.3 279.5L611.4 275.8L611.4 271.8L611.5 267.7L611.6 263.3L611.7 258.7L611.8 253.9L611.9 249.0L612.0 243.8L612.1 238.6L612.1 233.2L612.2 227.7L612.3 222.1L612.4 216.4L612.5 210.7L612.6 204.9L612.7 199.2L612.8 193.4L612.9 187.7L612.9 182.0L613.0 176.4L613.1 170.9L613.2 165.5L613.3 160.2L613.4 155.1L613.5 150.2L613.6 145.4L613.6 140.8L613.7 136.4L613.8 132.2L613.9 128.3L614.0 124.5L614.1 121.1L614.2 117.8L614.3 114.9L614.4 112.2L614.4 109.8L614.5 107.7L614.6 105.9L614.7 104.5L614.8 103.7L615.0 105.0L615.1 107.3L615.3 110.2L615.4 113.5L615.6 117.2L615.7 121.2L615.9 125.4L616.0 129.7L616.2 133.9L616.4 138.2L616.5 142.4L616.7 146.4L616.8 150.3L617.0 154.0L617.4 151.5L617.8 149.0L618.2 146.5L618.6 144.0L618.6 147.9L618.7 152.0L618.8 156.1L618.8 160.3L618.9 164.7L619.0 169.1L619.0 173.7L619.1 178.3L619.2 183.0L619.3 187.8L619.3 192.6L619.4 197.5L619.5 202.4L619.5 207.4L619.6 212.4L619.7 217.3L619.7 222.3L619.8 227.3L619.9 232.2L619.9 237.1L620.0 241.9L620.1 246.6L620.2 251.3L620.2 255.8L620.3 260.2L620.4 264.5L620.4 268.6L620.5 272.5L620.6 276.3L620.6 279.9L620.7 283.2L620.8 286.4L620.8 289.3L620.9 292.0L621.0 294.4L621.1 296.5L621.1 298.4L621.2 299.9L621.3 301.2L621.3 302.1L621.4 302.5L621.5 302.1L621.6 301.4L621.7 300.3L621.7 298.9L621.8 297.2L621.9 295.3L622.0 293.1L622.1 290.6L622.2 287.9L622.3 284.9L622.4 281.7L622.4 278.2L622.5 274.5L622.6 270.6L622.7 266.4L622.8 262.0L622.9 257.4L623.0 252.6L623.0 247.7L623.1 242.6L623.2 237.3L623.3 231.9L623.4 226.4L623.5 220.8L623.6 215.1L623.6 209.4L623.7 203.7L623.8 197.9L623.9 192.2L624.0 186.4L624.1 180.8L624.2 175.2L624.3 169.7L624.3 164.3L624.4 159.0L624.5 153.9L624.6 148.9L624.7 144.2L624.8 139.6L624.9 135.2L624.9 131.0L625.0 127.1L625.1 123.3L625.2 119.9L625.3 116.6L625.4 113.7L625.5 111.0L625.6 108.6L625.6 106.5L625.7 104.7L625.8 103.3L625.9 102.5L626.1 103.8L626.2 106.2L626.4 109.1L626.5 112.5L626.7 116.4L626.8 120.4L627.0 124.7L627.2 129.1L627.3 133.5L627.5 137.8L627.6 142.1L627.8 146.2L628.0 150.2L628.1 154.0L628.5 151.5L628.9 149.0L629.3 146.5L629.7 144.0L629.8 147.9L629.9 151.9L629.9 156.0L630.0 160.2L630.1 164.5L630.1 168.9L630.2 173.4L630.3 178.0L630.4 182.6L630.4 187.4L630.5 192.1L630.6 197.0L630.6 201.9L630.7 206.8L630.8 211.7L630.8 216.6L630.9 221.6L631.0 226.5L631.1 231.4L631.1 236.2L631.2 241.0L631.3 245.7L631.3 250.3L631.4 254.7L631.5 259.1L631.5 263.3L631.6 267.4L631.7 271.3L631.8 275.1L631.8 278.6L631.9 281.9L632.0 285.0L632.0 287.9L632.1 290.6L632.2 292.9L632.2 295.1L632.3 296.9L632.4 298.5L632.5 299.7L632.5 300.6L632.6 301.0L632.7 300.6L632.8 299.9L632.9 298.8L633.0 297.4L633.0 295.7L633.1 293.8L633.2 291.6L633.3 289.1L633.4 286.4L633.5 283.4L633.6 280.2L633.7 276.7L633.8 273.0L633.8 269.0L633.9 264.9L634.0 260.5L634.1 255.9L634.2 251.1L634.3 246.1L634.4 241.0L634.5 235.7L634.5 230.3L634.6 224.8L634.7 219.2L634.8 213.6L634.9 207.8L635.0 202.1L635.1 196.3L635.2 190.5L635.3 184.8L635.3 179.1L635.4 173.5L635.5 168.0L635.6 162.6L635.7 157.4L635.8 152.2L635.9 147.3L636.0 142.5L636.1 137.9L636.1 133.5L636.2 129.3L636.3 125.4L636.4 121.7L636.5 118.2L636.6 115.0L636.7 112.0L636.8 109.3L636.8 106.9L636.9 104.8L637.0 103.0L637.1 101.6L637.2 100.8L637.3 102.1L637.5 104.2L637.6 107.0L637.8 110.2L637.9 113.8L638.1 117.6L638.2 121.7L638.4 125.8L638.5 130.1L638.7 134.3L638.8 138.5L638.9 142.6L639.1 146.5L639.2 150.4L639.4 154.0L639.8 151.5L640.2 149.0L640.6 146.5L641.0 144.0L641.0 147.9L641.1 151.9L641.2 156.0L641.2 160.3L641.3 164.6L641.4 169.0L641.4 173.5L641.5 178.1L641.6 182.8L641.7 187.6L641.7 192.4L641.8 197.3L641.9 202.2L641.9 207.1L642.0 212.1L642.1 217.0L642.1 222.0L642.2 226.9L642.3 231.8L642.3 236.7L642.4 241.5L642.5 246.2L642.6 250.8L642.6 255.3L642.7 259.7L642.8 263.9L642.8 268.0L642.9 272.0L643.0 275.7L643.0 279.3L643.1 282.6L643.2 285.7L643.2 288.6L643.3 291.3L643.4 293.7L643.5 295.8L643.5 297.7L643.6 299.2L643.7 300.5L643.7 301.4L643.8 301.8L643.9 301.4L644.0 300.6L644.1 299.5L644.2 298.1L644.2 296.4L644.3 294.5L644.4 292.2L644.5 289.7L644.6 287.0L644.7 283.9L644.8 280.7L644.9 277.1L644.9 273.4L645.0 269.4L645.1 265.1L645.2 260.7L645.3 256.0L645.4 251.2L645.5 246.2L645.6 241.0L645.7 235.6L645.7 230.2L645.8 224.6L645.9 218.9L646.0 213.1L646.1 207.3L646.2 201.5L646.3 195.6L646.4 189.8L646.5 184.0L646.5 178.2L646.6 172.6L646.7 167.0L646.8 161.5L646.9 156.2L647.0 151.0L647.1 145.9L647.2 141.1L647.2 136.4L647.3 132.0L647.4 127.7L647.5 123.7L647.6 119.9L647.7 116.4L647.8 113.2L647.9 110.1L648.0 107.4L648.0 105.0L648.1 102.8L648.2 101.0L648.3 99.6L648.4 98.8L648.5 100.1L648.7 102.3L648.8 105.2L649.0 108.5L649.1 112.3L649.3 116.2L649.4 120.4L649.6 124.8L649.7 129.2L649.9 133.6L650.0 137.9L650.1 142.2L650.3 146.3L650.4 150.2L650.6 154.0L651.0 151.5L651.4 149.0L651.8 146.5L652.2 144.0L652.2 147.9L652.3 151.9L652.4 156.0L652.4 160.2L652.5 164.5L652.6 168.9L652.6 173.4L652.7 178.0L652.8 182.6L652.9 187.4L652.9 192.1L653.0 197.0L653.1 201.9L653.1 206.8L653.2 211.7L653.3 216.6L653.3 221.6L653.4 226.5L653.5 231.4L653.5 236.2L653.6 241.0L653.7 245.7L653.8 250.3L653.8 254.7L653.9 259.1L654.0 263.3L654.0 267.4L654.1 271.3L654.2 275.1L654.2 278.6L654.3 281.9L654.4 285.0L654.4 287.9L654.5 290.6L654.6 292.9L654.7 295.1L654.7 296.9L654.8 298.5L654.9 299.7L654.9 300.6L655.0 301.0L655.1 300.6L655.2 299.8L655.3 298.7L655.4 297.3L655.5 295.5L655.6 293.6L655.6 291.3L655.7 288.7L655.8 285.9L655.9 282.9L656.0 279.5L656.1 275.9L656.2 272.1L656.3 268.1L656.4 263.8L656.5 259.2L656.6 254.5L656.7 249.6L656.8 244.5L656.8 239.2L656.9 233.8L657.0 228.3L657.1 222.7L657.2 216.9L657.3 211.2L657.4 205.3L657.5 199.5L657.6 193.6L657.7 187.8L657.8 182.0L657.9 176.3L657.9 170.7L658.0 165.1L658.1 159.7L658.2 154.5L658.3 149.4L658.4 144.5L658.5 139.8L658.6 135.3L658.7 131.0L658.8 126.9L658.9 123.1L659.0 119.5L659.1 116.2L659.1 113.2L659.2 110.4L659.3 107.9L659.4 105.8L659.5 104.0L659.6 102.5L659.7 101.7L659.8 102.9L660.0 105.1L660.1 107.8L660.3 110.9L660.4 114.4L660.6 118.2L660.7 122.2L660.8 126.3L661.0 130.5L661.1 134.6L661.3 138.7L661.4 142.8L661.6 146.7L661.7 150.4L661.8 154.0L662.2 151.5L662.6 149.0L663.0 146.5L663.4 144.0L663.5 147.9L663.5 151.9L663.6 155.9L663.7 160.1L663.7 164.4L663.8 168.8L663.9 173.3L664.0 177.9L664.0 182.5L664.1 187.2L664.2 192.0L664.2 196.8L664.3 201.7L664.4 206.6L664.4 211.5L664.5 216.4L664.6 221.3L664.6 226.2L664.7 231.1L664.8 235.9L664.8 240.7L664.9 245.3L665.0 249.9L665.0 254.4L665.1 258.7L665.2 263.0L665.2 267.0L665.3 270.9L665.4 274.6L665.5 278.2L665.5 281.5L665.6 284.6L665.7 287.5L665.7 290.1L665.8 292.5L665.9 294.6L665.9 296.4L666.0 298.0L666.1 299.2L666.1 300.1L666.2 300.5L666.3 300.1L666.4 299.3L666.5 298.2L666.6 296.8L666.6 295.1L666.7 293.1L666.8 290.8L666.9 288.3L667.0 285.5L667.1 282.4L667.2 279.1L667.3 275.5L667.3 271.7L667.4 267.6L667.5 263.3L667.6 258.8L667.7 254.1L667.8 249.2L667.9 244.1L668.0 238.9L668.1 233.5L668.1 228.0L668.2 222.4L668.3 216.7L668.4 210.9L668.5 205.1L668.6 199.2L668.7 193.4L668.8 187.6L668.8 181.8L668.9 176.1L669.0 170.5L669.1 165.0L669.2 159.6L669.3 154.4L669.4 149.3L669.5 144.4L669.6 139.7L669.6 135.2L669.7 130.9L669.8 126.9L669.9 123.0L670.0 119.5L670.1 116.2L670.2 113.1L670.3 110.4L670.3 107.9L670.4 105.8L670.5 103.9L670.6 102.5L670.7 101.7L670.8 102.9L671.0 105.1L671.1 107.8L671.3 110.9L671.4 114.4L671.6 118.2L671.7 122.2L671.9 126.3L672.0 130.5L672.2 134.6L672.3 138.7L672.5 142.8L672.6 146.7L672.8 150.4L672.9 154.0L673.4 151.5L673.8 149.0L674.2 146.5L674.6 144.0L674.6 147.9L674.7 151.8L674.8 155.9L674.9 160.1L674.9 164.4L675.0 168.8L675.1 173.2L675.1 177.8L675.2 182.4L675.3 187.1L675.3 191.9L675.4 196.7L675.5 201.5L675.6 206.4L675.6 211.3L675.7 216.3L675.8 221.2L675.8 226.1L675.9 231.0L676.0 235.8L676.0 240.6L676.1 245.3L676.2 249.9L676.2 254.5L676.3 258.9L676.4 263.2L676.5 267.4L676.5 271.4L676.6 275.2L676.7 278.9L676.7 282.3L676.8 285.6L676.9 288.6L676.9 291.5L677.0 294.1L677.1 296.4L677.2 298.5L677.2 300.3L677.3 301.8L677.4 303.0L677.4 303.9L677.5 304.3L677.6 303.9L677.7 303.2L677.7 302.1L677.8 300.7L677.9 299.0L678.0 297.1L678.1 294.9L678.1 292.4L678.2 289.7L678.3 286.8L678.4 283.6L678.5 280.1L678.5 276.4L678.6 272.5L678.7 268.3L678.8 264.0L678.8 259.4L678.9 254.6L679.0 249.7L679.1 244.6L679.2 239.3L679.2 233.9L679.3 228.4L679.4 222.7L679.5 217.0L679.6 211.3L679.6 205.5L679.7 199.7L679.8 193.8L679.9 188.0L680.0 182.3L680.0 176.6L680.1 170.9L680.2 165.4L680.3 160.0L680.4 154.7L680.4 149.6L680.5 144.6L680.6 139.9L680.7 135.3L680.7 130.9L680.8 126.7L680.9 122.8L681.0 119.0L681.1 115.6L681.1 112.4L681.2 109.4L681.3 106.7L681.4 104.3L681.5 102.2L681.5 100.4L681.6 99.0L681.7 98.2L681.9 99.5L682.0 101.8L682.2 104.7L682.3 108.0L682.5 111.8L682.6 115.8L682.8 120.1L682.9 124.5L683.1 128.9L683.2 133.3L683.4 137.7L683.5 142.0L683.7 146.2L683.9 150.2L684.0 154.0L684.4 151.5L684.9 149.0L685.3 146.5L685.7 144.0L685.8 147.9L685.8 152.0L685.9 156.1L686.0 160.3L686.0 164.7L686.1 169.1L686.2 173.7L686.3 178.3L686.3 183.0L686.4 187.7L686.5 192.6L686.6 197.4L686.6 202.4L686.7 207.3L686.8 212.3L686.8 217.3L686.9 222.3L687.0 227.3L687.1 232.2L687.1 237.1L687.2 242.0L687.3 246.8L687.3 251.5L687.4 256.1L687.5 260.5L687.6 264.9L687.6 269.1L687.7 273.2L687.8 277.1L687.8 280.8L687.9 284.3L688.0 287.6L688.1 290.7L688.1 293.6L688.2 296.2L688.3 298.6L688.3 300.7L688.4 302.5L688.5 304.1L688.6 305.3L688.6 306.2L688.7 306.6L688.8 306.2L688.8 305.5L688.9 304.4L689.0 303.0L689.1 301.4L689.1 299.5L689.2 297.4L689.3 294.9L689.3 292.3L689.4 289.4L689.5 286.2L689.5 282.8L689.6 279.2L689.7 275.3L689.8 271.3L689.8 267.0L689.9 262.5L690.0 257.8L690.0 252.9L690.1 247.9L690.2 242.7L690.2 237.3L690.3 231.9L690.4 226.3L690.5 220.7L690.5 215.0L690.6 209.2L690.7 203.4L690.7 197.6L690.8 191.8L690.9 186.0L691.0 180.3L691.0 174.6L691.1 169.1L691.2 163.6L691.2 158.3L691.3 153.0L691.4 148.0L691.4 143.1L691.5 138.4L691.6 133.9L691.7 129.5L691.7 125.4L691.8 121.5L691.9 117.9L691.9 114.4L692.0 111.3L692.1 108.3L692.1 105.7L692.2 103.3L692.3 101.2L692.4 99.5L692.4 98.1L692.5 97.3L692.7 98.5L692.8 100.6L693.0 103.3L693.1 106.4L693.3 109.9L693.4 113.7L693.6 117.6L693.7 121.7L693.9 126.0L694.0 130.2L694.2 134.4L694.3 138.6L694.5 142.6L694.6 146.6L694.8 150.4L694.9 154.0L695.4 151.5L695.8 149.0L696.3 146.5L696.7 144.0L696.8 147.9L696.9 151.9L696.9 156.0L697.0 160.3L697.1 164.6L697.2 169.0L697.2 173.5L697.3 178.0L697.4 182.7L697.5 187.4L697.5 192.2L697.6 197.1L697.7 201.9L697.8 206.9L697.8 211.8L697.9 216.8L698.0 221.8L698.0 226.7L698.1 231.7L698.2 236.6L698.3 241.4L698.3 246.2L698.4 250.9L698.5 255.6L698.6 260.1L698.6 264.5L698.7 268.8L698.8 273.0L698.9 277.0L698.9 280.8L699.0 284.4L699.1 287.9L699.2 291.1L699.2 294.1L699.3 297.0L699.4 299.5L699.5 301.8L699.5 303.9L699.6 305.7L699.7 307.2L699.8 308.4L699.8 309.3L699.9 309.7L700.0 309.3L700.0 308.6L700.1 307.5L700.2 306.2L700.3 304.5L700.3 302.6L700.4 300.5L700.5 298.1L700.6 295.5L700.6 292.6L700.7 289.4L700.8 286.1L700.8 282.5L700.9 278.6L701.0 274.6L701.1 270.3L701.1 265.8L701.2 261.2L701.3 256.3L701.4 251.3L701.4 246.1L701.5 240.8L701.6 235.3L701.6 229.7L701.7 224.1L701.8 218.3L701.9 212.6L701.9 206.7L702.0 200.9L702.1 195.0L702.2 189.2L702.2 183.4L702.3 177.6L702.4 172.0L702.4 166.4L702.5 160.9L702.6 155.6L702.7 150.3L702.7 145.3L702.8 140.4L702.9 135.7L703.0 131.2L703.0 126.9L703.1 122.8L703.2 118.9L703.2 115.2L703.3 111.8L703.4 108.6L703.5 105.7L703.5 103.1L703.6 100.7L703.7 98.6L703.8 96.9L703.8 95.5L703.9 94.7L704.0 96.0L704.2 98.2L704.3 101.0L704.5 104.2L704.6 107.9L704.8 111.8L704.9 116.0L705.1 120.3L705.2 124.7L705.4 129.1L705.5 133.5L705.7 137.9L705.8 142.1L706.0 146.2L706.1 150.2L706.3 154.0L706.7 151.5L707.1 149.1L707.6 146.6L708.0 144.1L708.1 148.0L708.1 152.0L708.2 156.1L708.3 160.4L708.4 164.7L708.4 169.1L708.5 173.5L708.6 178.1L708.6 182.7L708.7 187.5L708.8 192.2L708.8 197.1L708.9 201.9L709.0 206.9L709.1 211.8L709.1 216.8L709.2 221.7L709.3 226.7L709.3 231.7L709.4 236.6L709.5 241.5L709.6 246.3L709.6 251.1L709.7 255.7L709.8 260.3L709.8 264.8L709.9 269.2L710.0 273.4L710.0 277.5L710.1 281.5L710.2 285.2L710.3 288.8L710.3 292.2L710.4 295.4L710.5 298.4L710.5 301.2L710.6 303.7L710.7 306.0L710.7 308.0L710.8 309.8L710.9 311.3L711.0 312.4L711.0 313.3L711.1 313.7L711.2 313.3L711.2 312.6L711.3 311.6L711.4 310.2L711.5 308.7L711.5 306.8L711.6 304.7L711.7 302.4L711.7 299.8L711.8 297.0L711.9 294.0L712.0 290.7L712.0 287.2L712.1 283.5L712.2 279.5L712.3 275.4L712.3 271.0L712.4 266.5L712.5 261.8L712.5 256.9L712.6 251.8L712.7 246.6L712.8 241.2L712.8 235.7L712.9 230.2L713.0 224.5L713.0 218.8L713.1 213.0L713.2 207.1L713.3 201.3L713.3 195.4L713.4 189.6L713.5 183.8L713.5 178.0L713.6 172.3L713.7 166.7L713.8 161.2L713.8 155.9L713.9 150.6L714.0 145.5L714.0 140.5L714.1 135.8L714.2 131.1L714.3 126.7L714.3 122.5L714.4 118.5L714.5 114.7L714.6 111.1L714.6 107.8L714.7 104.7L714.8 101.8L714.8 99.2L714.9 96.9L715.0 94.9L715.1 93.1L715.1 91.8L715.2 91.0L715.3 92.2L715.5 94.4L715.6 97.1L715.8 100.3L715.9 103.8L716.0 107.7L716.2 111.7L716.3 116.0L716.4 120.4L716.6 124.8L716.7 129.2L716.9 133.6L717.0 137.9L717.1 142.2L717.3 146.3L717.4 150.2L717.5 154.0L718.0 151.6L718.4 149.2L718.8 146.8L719.2 144.5L719.3 148.3L719.4 152.3L719.4 156.4L719.5 160.6L719.6 164.8L719.6 169.2L719.7 173.6L719.8 178.1L719.8 182.7L719.9 187.3L720.0 192.1L720.0 196.8L720.1 201.6L720.2 206.5L720.2 211.4L720.3 216.3L720.4 221.3L720.4 226.2L720.5 231.1L720.6 236.0L720.6 240.9L720.7 245.8L720.8 250.6L720.8 255.3L720.9 260.0L721.0 264.6L721.0 269.0L721.1 273.4L721.2 277.6L721.2 281.7L721.3 285.7L721.4 289.5L721.4 293.2L721.5 296.6L721.6 299.9L721.6 303.0L721.7 305.8L721.8 308.5L721.8 310.9L721.9 313.1L722.0 315.1L722.0 316.8L722.1 318.2L722.2 319.4L722.2 320.2L722.3 320.6L722.4 320.3L722.4 319.6L722.5 318.6L722.6 317.3L722.6 315.8L722.7 314.1L722.8 312.1L722.9 309.9L722.9 307.5L723.0 304.8L723.1 301.9L723.1 298.8L723.2 295.5L723.3 292.0L723.3 288.3L723.4 284.3L723.5 280.2L723.5 275.9L723.6 271.4L723.7 266.7L723.7 261.9L723.8 256.9L723.9 251.8L724.0 246.5L724.0 241.1L724.1 235.6L724.2 230.0L724.2 224.4L724.3 218.6L724.4 212.8L724.4 207.0L724.5 201.2L724.6 195.3L724.6 189.5L724.7 183.7L724.8 177.9L724.8 172.2L724.9 166.6L725.0 161.1L725.1 155.6L725.1 150.3L725.2 145.1L725.3 140.0L725.3 135.1L725.4 130.3L725.5 125.7L725.5 121.3L725.6 117.1L725.7 113.1L725.7 109.2L725.8 105.6L725.9 102.2L725.9 99.0L726.0 96.0L726.1 93.2L726.2 90.7L726.2 88.5L726.3 86.5L726.4 84.9L726.4 83.6L726.5 82.8L726.6 84.0L726.7 86.0L726.9 88.7L727.0 91.7L727.1 95.1L727.2 98.9L727.4 102.8L727.5 107.0L727.6 111.3L727.7 115.7L727.8 120.2L728.0 124.7L728.1 129.1L728.2 133.5L728.3 137.9L728.4 142.1L728.6 146.2L728.7 150.2L728.8 154.0L729.2 151.7L729.6 149.4L730.1 147.1L730.5 144.8L730.6 148.7L730.6 152.7L730.7 156.9L730.8 161.1L730.8 165.4L730.9 169.8L730.9 174.3L731.0 178.8L731.1 183.4L731.1 188.2L731.2 192.9L731.3 197.7L731.3 202.6L731.4 207.5L731.5 212.5L731.5 217.5L731.6 222.5L731.7 227.4L731.7 232.4L731.8 237.4L731.9 242.3L731.9 247.3L732.0 252.1L732.1 256.9L732.1 261.6L732.2 266.2L732.3 270.8L732.3 275.2L732.4 279.5L732.5 283.6L732.5 287.6L732.6 291.5L732.6 295.2L732.7 298.7L732.8 302.0L732.8 305.1L732.9 308.0L733.0 310.7L733.0 313.1L733.1 315.4L733.2 317.3L733.2 319.1L733.3 320.5L733.4 321.7L733.4 322.5L733.5 322.9L733.6 322.6L733.6 321.9L733.7 320.9L733.8 319.6L733.8 318.1L733.9 316.4L734.0 314.4L734.1 312.2L734.1 309.8L734.2 307.1L734.3 304.3L734.3 301.2L734.4 297.9L734.5 294.4L734.5 290.7L734.6 286.8L734.7 282.7L734.7 278.4L734.8 273.9L734.9 269.2L735.0 264.4L735.0 259.4L735.1 254.3L735.2 249.0L735.2 243.6L735.3 238.1L735.4 232.5L735.4 226.8L735.5 221.1L735.6 215.2L735.6 209.4L735.7 203.5L735.8 197.6L735.9 191.7L735.9 185.8L736.0 180.0L736.1 174.2L736.1 168.5L736.2 162.8L736.3 157.3L736.3 151.8L736.4 146.5L736.5 141.3L736.6 136.2L736.6 131.3L736.7 126.5L736.8 121.9L736.8 117.5L736.9 113.3L737.0 109.2L737.0 105.4L737.1 101.8L737.2 98.4L737.2 95.2L737.3 92.2L737.4 89.4L737.5 87.0L737.5 84.7L737.6 82.7L737.7 81.1L737.7 79.8L737.8 79.0L737.9 80.2L738.0 82.2L738.2 84.7L738.3 87.7L738.4 91.1L738.5 94.7L738.6 98.6L738.8 102.7L738.9 107.0L739.0 111.3L739.1 115.8L739.2 120.3L739.3 124.7L739.5 129.2L739.6 133.6L739.7 137.9L739.8 142.1L739.9 146.2L740.1 150.2L740.2 154.0L740.6 151.8L741.0 149.6L741.5 147.4L741.9 145.1L742.0 149.0L742.0 153.0L742.1 157.1L742.2 161.3L742.2 165.5L742.3 169.9L742.4 174.3L742.4 178.8L742.5 183.4L742.6 188.0L742.6 192.7L742.7 197.5L742.8 202.3L742.8 207.2L742.9 212.1L743.0 217.0L743.0 222.0L743.1 226.9L743.2 231.8L743.2 236.8L743.3 241.7L743.4 246.6L743.4 251.4L743.5 256.2L743.6 260.9L743.6 265.5L743.7 270.1L743.7 274.5L743.8 278.8L743.9 283.0L743.9 287.1L744.0 291.0L744.1 294.8L744.1 298.4L744.2 301.8L744.3 305.1L744.3 308.1L744.4 310.9L744.5 313.6L744.5 316.0L744.6 318.1L744.7 320.1L744.7 321.8L744.8 323.2L744.9 324.3L744.9 325.1L745.0 325.5L745.1 325.2L745.1 324.5L745.2 323.5L745.3 322.3L745.3 320.8L745.4 319.1L745.5 317.2L745.5 315.0L745.6 312.6L745.7 310.1L745.7 307.3L745.8 304.2L745.9 301.0L745.9 297.6L746.0 293.9L746.1 290.1L746.1 286.1L746.2 281.9L746.3 277.5L746.3 272.9L746.4 268.1L746.5 263.3L746.5 258.2L746.6 253.0L746.7 247.7L746.7 242.3L746.8 236.8L746.9 231.2L746.9 225.5L747.0 219.8L747.1 214.0L747.1 208.1L747.2 202.3L747.3 196.4L747.3 190.6L747.4 184.8L747.5 179.0L747.5 173.3L747.6 167.6L747.7 162.1L747.7 156.6L747.8 151.2L747.9 146.0L747.9 140.8L748.0 135.8L748.1 131.0L748.1 126.3L748.2 121.8L748.3 117.5L748.3 113.3L748.4 109.3L748.5 105.6L748.5 102.0L748.6 98.6L748.7 95.5L748.7 92.6L748.8 89.9L748.9 87.4L748.9 85.2L749.0 83.3L749.1 81.7L749.1 80.4L749.2 79.6L749.3 80.8L749.4 82.8L749.5 85.3L749.7 88.2L749.8 91.6L749.9 95.2L750.0 99.0L750.1 103.1L750.2 107.3L750.4 111.7L750.5 116.1L750.6 120.5L750.7 125.0L750.8 129.4L750.9 133.7L751.0 138.0L751.2 142.2L751.3 146.3L751.4 150.2L751.5 154.0L751.9 151.9L752.4 149.7L752.8 147.6L753.2 145.5L753.3 149.4L753.3 153.5L753.4 157.6L753.4 161.9L753.5 166.2L753.6 170.6L753.6 175.1L753.7 179.7L753.8 184.3L753.8 189.0L753.9 193.8L753.9 198.7L754.0 203.5L754.1 208.5L754.1 213.5L754.2 218.5L754.3 223.5L754.3 228.5L754.4 233.5L754.4 238.6L754.5 243.6L754.6 248.6L754.6 253.5L754.7 258.4L754.8 263.2L754.8 268.0L754.9 272.7L754.9 277.2L755.0 281.7L755.1 286.1L755.1 290.3L755.2 294.4L755.3 298.3L755.3 302.1L755.4 305.7L755.4 309.2L755.5 312.4L755.6 315.4L755.6 318.3L755.7 320.9L755.8 323.3L755.8 325.5L755.9 327.5L755.9 329.1L756.0 330.6L756.1 331.7L756.1 332.5L756.2 332.9L756.3 332.6L756.3 331.9L756.4 331.0L756.5 329.8L756.5 328.4L756.6 326.8L756.6 324.9L756.7 322.9L756.8 320.6L756.8 318.2L756.9 315.5L757.0 312.6L757.0 309.6L757.1 306.3L757.2 302.9L757.2 299.2L757.3 295.4L757.4 291.4L757.4 287.2L757.5 282.8L757.5 278.3L757.6 273.6L757.7 268.8L757.7 263.8L757.8 258.7L757.9 253.5L757.9 248.1L758.0 242.7L758.1 237.1L758.1 231.5L758.2 225.8L758.3 220.1L758.3 214.3L758.4 208.5L758.4 202.6L758.5 196.8L758.6 191.0L758.6 185.2L758.7 179.4L758.8 173.6L758.8 168.0L758.9 162.4L759.0 156.8L759.0 151.4L759.1 146.1L759.2 140.9L759.2 135.8L759.3 130.8L759.3 126.0L759.4 121.3L759.5 116.8L759.5 112.5L759.6 108.3L759.7 104.3L759.7 100.5L759.8 96.9L759.9 93.4L759.9 90.2L760.0 87.2L760.1 84.4L760.1 81.8L760.2 79.4L760.2 77.3L760.3 75.4L760.4 73.8L760.4 72.5L760.5 71.8L760.6 72.9L760.7 74.8L760.8 77.3L760.9 80.1L761.0 83.3L761.1 86.8L761.2 90.5L761.3 94.5L761.4 98.6L761.5 102.9L761.6 107.2L761.7 111.7L761.8 116.1L761.9 120.6L762.1 125.0L762.2 129.4L762.3 133.8L762.4 138.0L762.5 142.2L762.6 146.3L762.7 150.2L762.8 154.0L763.2 152.0L763.6 149.9L764.0 147.9L764.4 145.8L764.5 149.7L764.6 153.7L764.6 157.8L764.7 162.0L764.7 166.3L764.8 170.6L764.9 175.0L764.9 179.6L765.0 184.1L765.1 188.8L765.1 193.5L765.2 198.3L765.2 203.1L765.3 208.0L765.4 212.9L765.4 217.8L765.5 222.8L765.5 227.8L765.6 232.7L765.7 237.7L765.7 242.6L765.8 247.6L765.9 252.4L765.9 257.3L766.0 262.0L766.0 266.7L766.1 271.3L766.2 275.9L766.2 280.3L766.3 284.6L766.3 288.8L766.4 292.8L766.5 296.7L766.5 300.4L766.6 304.0L766.7 307.4L766.7 310.6L766.8 313.6L766.8 316.4L766.9 319.0L767.0 321.4L767.0 323.5L767.1 325.4L767.2 327.1L767.2 328.5L767.3 329.6L767.3 330.4L767.4 330.8L767.5 330.5L767.5 329.8L767.6 328.9L767.7 327.7L767.7 326.3L767.8 324.7L767.9 322.8L767.9 320.8L768.0 318.5L768.1 316.0L768.1 313.4L768.2 310.5L768.3 307.4L768.3 304.1L768.4 300.7L768.5 297.0L768.5 293.2L768.6 289.1L768.6 284.9L768.7 280.6L768.8 276.0L768.8 271.3L768.9 266.5L769.0 261.5L769.0 256.4L769.1 251.1L769.2 245.7L769.2 240.3L769.3 234.7L769.4 229.1L769.4 223.4L769.5 217.6L769.6 211.8L769.6 206.0L769.7 200.1L769.8 194.3L769.8 188.4L769.9 182.6L770.0 176.8L770.0 171.1L770.1 165.4L770.2 159.7L770.2 154.2L770.3 148.8L770.4 143.4L770.4 138.2L770.5 133.1L770.6 128.1L770.6 123.3L770.7 118.6L770.7 114.1L770.8 109.7L770.9 105.5L770.9 101.5L771.0 97.7L771.1 94.0L771.1 90.6L771.2 87.4L771.3 84.3L771.3 81.5L771.4 78.9L771.5 76.5L771.5 74.4L771.6 72.5L771.7 70.9L771.7 69.6L771.8 68.9L771.9 70.0L772.0 71.8L772.1 74.2L772.2 77.0L772.3 80.1L772.4 83.4L772.5 87.1L772.6 90.9L772.7 95.0L772.8 99.1L772.9 103.4L773.0 107.8L773.1 112.2L773.2 116.6L773.3 121.0L773.4 125.4L773.5 129.8L773.6 134.0L773.7 138.2L773.8 142.3L773.9 146.4L774.0 150.2L774.1 154.0L774.7 151.4L775.3 148.8L775.8 146.2L775.9 150.1L776.0 154.1L776.0 158.2L776.1 162.5L776.2 166.8L776.2 171.1L776.3 175.6L776.3 180.1L776.4 184.8L776.5 189.5L776.5 194.2L776.6 199.0L776.7 203.9L776.7 208.8L776.8 213.7L776.8 218.7L776.9 223.7L777.0 228.7L777.0 233.7L777.1 238.7L777.2 243.7L777.2 248.7L777.3 253.6L777.3 258.5L777.4 263.4L777.5 268.1L777.5 272.9L777.6 277.5L777.7 282.0L777.7 286.4L777.8 290.7L777.8 294.8L777.9 298.9L778.0 302.7L778.0 306.5L778.1 310.0L778.2 313.4L778.2 316.6L778.3 319.6L778.3 322.4L778.4 324.9L778.5 327.3L778.5 329.4L778.6 331.3L778.7 333.0L778.7 334.4L778.8 335.5L778.8 336.3L778.9 336.7L779.0 336.4L779.0 335.7L779.1 334.8L779.1 333.7L779.2 332.3L779.3 330.7L779.3 328.9L779.4 326.9L779.4 324.7L779.5 322.3L779.6 319.7L779.6 316.9L779.7 313.9L779.8 310.7L779.8 307.3L779.9 303.7L779.9 300.0L780.0 296.0L780.1 291.9L780.1 287.7L780.2 283.2L780.2 278.6L780.3 273.9L780.4 269.0L780.4 264.0L780.5 258.8L780.5 253.6L780.6 248.2L780.7 242.7L780.7 237.2L780.8 231.5L780.8 225.8L780.9 220.1L781.0 214.3L781.0 208.5L781.1 202.6L781.2 196.8L781.2 190.9L781.3 185.1L781.3 179.3L781.4 173.6L781.5 167.9L781.5 162.2L781.6 156.7L781.6 151.2L781.7 145.8L781.8 140.6L781.8 135.4L781.9 130.4L781.9 125.5L782.0 120.8L782.1 116.2L782.1 111.7L782.2 107.5L782.2 103.4L782.3 99.4L782.4 95.7L782.4 92.1L782.5 88.7L782.6 85.5L782.6 82.6L782.7 79.8L782.7 77.2L782.8 74.9L782.9 72.8L782.9 70.9L783.0 69.4L783.0 68.1L783.1 67.4L783.2 68.5L783.3 70.4L783.4 72.8L783.5 75.6L783.6 78.8L783.7 82.2L783.8 85.9L783.9 89.8L784.0 93.9L784.1 98.2L784.3 102.5L784.4 107.0L784.5 111.4L784.6 115.9L784.7 120.4L784.8 124.9L784.9 129.3L785.0 133.7L785.1 138.0L785.2 142.1L785.3 146.2L785.4 150.2L785.5 154.0L786.1 151.5L786.7 149.0L787.3 146.5L787.3 150.4L787.4 154.4L787.4 158.6L787.5 162.7L787.6 167.0L787.6 171.4L787.7 175.8L787.8 180.3L787.8 184.9L787.9 189.6L787.9 194.3L788.0 199.1L788.1 203.9L788.1 208.8L788.2 213.7L788.2 218.7L788.3 223.6L788.4 228.6L788.4 233.6L788.5 238.6L788.6 243.6L788.6 248.6L788.7 253.6L788.7 258.5L788.8 263.4L788.9 268.3L788.9 273.0L789.0 277.7L789.0 282.4L789.1 286.9L789.2 291.3L789.2 295.6L789.3 299.8L789.4 303.9L789.4 307.8L789.5 311.6L789.5 315.2L789.6 318.7L789.7 321.9L789.7 325.0L789.8 327.9L789.8 330.7L789.9 333.2L790.0 335.5L790.0 337.5L790.1 339.4L790.2 341.0L790.2 342.4L790.3 343.4L790.3 344.2L790.4 344.6L790.5 344.3L790.5 343.7L790.6 342.8L790.6 341.6L790.7 340.3L790.8 338.8L790.8 337.0L790.9 335.1L790.9 332.9L791.0 330.6L791.1 328.1L791.1 325.4L791.2 322.5L791.2 319.4L791.3 316.1L791.4 312.6L791.4 309.0L791.5 305.2L791.5 301.2L791.6 297.1L791.7 292.8L791.7 288.3L791.8 283.7L791.8 279.0L791.9 274.1L792.0 269.1L792.0 263.9L792.1 258.7L792.1 253.3L792.2 247.9L792.3 242.3L792.3 236.7L792.4 231.0L792.4 225.3L792.5 219.5L792.5 213.7L792.6 207.8L792.7 202.0L792.7 196.1L792.8 190.3L792.8 184.5L792.9 178.7L793.0 172.9L793.0 167.2L793.1 161.6L793.1 156.1L793.2 150.6L793.3 145.2L793.3 140.0L793.4 134.8L793.4 129.8L793.5 124.9L793.6 120.1L793.6 115.4L793.7 111.0L793.7 106.6L793.8 102.4L793.9 98.4L793.9 94.6L794.0 90.9L794.0 87.5L794.1 84.2L794.2 81.1L794.2 78.1L794.3 75.4L794.3 72.9L794.4 70.6L794.5 68.6L794.5 66.8L794.6 65.2L794.6 64.0L794.7 63.3L794.8 64.4L794.9 66.3L795.0 68.6L795.1 71.4L795.2 74.5L795.3 77.9L795.4 81.5L795.5 85.4L795.6 89.5L795.6 93.7L795.7 98.0L795.8 102.4L795.9 106.9L796.0 111.4L796.1 115.9L796.2 120.4L796.3 124.9L796.4 129.3L796.5 133.7L796.6 137.9L796.7 142.1L796.8 146.2L796.9 150.2L797.0 154.0L797.5 151.6L798.1 149.2L798.6 146.8L798.7 150.8L798.7 154.8L798.8 158.9L798.9 163.1L798.9 167.3L799.0 171.7L799.0 176.1L799.1 180.6L799.2 185.2L799.2 189.9L799.3 194.6L799.3 199.3L799.4 204.2L799.4 209.0L799.5 213.9L799.6 218.9L799.6 223.8L799.7 228.8L799.7 233.8L799.8 238.8L799.9 243.8L799.9 248.8L800.0 253.8L800.0 258.7L800.1 263.6L800.1 268.4L800.2 273.2L800.3 277.9L800.3 282.5L800.4 287.0L800.4 291.4L800.5 295.7L800.6 299.9L800.6 304.0L800.7 307.9L800.7 311.6L800.8 315.3L800.8 318.7L800.9 322.0L801.0 325.1L801.0 328.0L801.1 330.7L801.1 333.2L801.2 335.5L801.3 337.6L801.3 339.4L801.4 341.0L801.4 342.4L801.5 343.5L801.5 344.2L801.6 344.6L801.7 344.3L801.7 343.7L801.8 342.8L801.9 341.6L801.9 340.3L802.0 338.7L802.0 337.0L802.1 335.0L802.2 332.9L802.2 330.5L802.3 328.0L802.4 325.2L802.4 322.3L802.5 319.2L802.5 315.9L802.6 312.4L802.7 308.8L802.7 305.0L802.8 301.0L802.9 296.8L802.9 292.5L803.0 288.0L803.0 283.3L803.1 278.5L803.2 273.6L803.2 268.6L803.3 263.4L803.4 258.1L803.4 252.7L803.5 247.2L803.5 241.6L803.6 236.0L803.7 230.3L803.7 224.5L803.8 218.7L803.9 212.8L803.9 206.9L804.0 201.0L804.0 195.1L804.1 189.2L804.2 183.4L804.2 177.6L804.3 171.8L804.4 166.0L804.4 160.4L804.5 154.8L804.5 149.3L804.6 143.9L804.7 138.6L804.7 133.4L804.8 128.3L804.9 123.4L804.9 118.6L805.0 113.9L805.0 109.4L805.1 105.0L805.2 100.8L805.2 96.8L805.3 92.9L805.4 89.2L805.4 85.7L805.5 82.4L805.5 79.3L805.6 76.3L805.7 73.6L805.7 71.1L805.8 68.8L805.9 66.7L805.9 64.9L806.0 63.3L806.0 62.1L806.1 61.4L806.2 62.5L806.3 64.3L806.4 66.5L806.5 69.2L806.6 72.2L806.7 75.5L806.7 79.0L806.8 82.7L806.9 86.7L807.0 90.8L807.1 95.0L807.2 99.3L807.3 103.6L807.4 108.1L807.5 112.5L807.6 117.0L807.7 121.4L807.8 125.8L807.9 130.1L807.9 134.4L808.0 138.5L808.1 142.6L808.2 146.6L808.3 150.5L808.4 154.3L809.0 152.0L809.5 149.7L810.1 147.4L810.1 151.3L810.2 155.3L810.3 159.4L810.3 163.6L810.4 167.8L810.4 172.2L810.5 176.6L810.6 181.1L810.6 185.7L810.7 190.3L810.7 195.0L810.8 199.8L810.9 204.6L810.9 209.4L811.0 214.3L811.0 219.2L811.1 224.2L811.2 229.2L811.2 234.1L811.3 239.1L811.3 244.1L811.4 249.1L811.4 254.0L811.5 258.9L811.6 263.8L811.6 268.6L811.7 273.4L811.7 278.0L811.8 282.6L811.9 287.2L811.9 291.6L812.0 295.9L812.0 300.0L812.1 304.1L812.2 308.0L812.2 311.7L812.3 315.3L812.3 318.8L812.4 322.0L812.5 325.1L812.5 328.0L812.6 330.7L812.6 333.2L812.7 335.5L812.7 337.6L812.8 339.4L812.9 341.0L812.9 342.4L813.0 343.5L813.0 344.2L813.1 344.6L813.2 344.3L813.2 343.7L813.3 342.8L813.3 341.7L813.4 340.3L813.5 338.8L813.5 337.0L813.6 335.1L813.6 333.0L813.7 330.6L813.8 328.1L813.8 325.4L813.9 322.5L813.9 319.5L814.0 316.2L814.1 312.8L814.1 309.1L814.2 305.3L814.2 301.4L814.3 297.3L814.4 293.0L814.4 288.5L814.5 283.9L814.5 279.2L814.6 274.3L814.7 269.3L814.7 264.2L814.8 259.0L814.8 253.6L814.9 248.2L815.0 242.7L815.0 237.1L815.1 231.4L815.1 225.7L815.2 219.9L815.2 214.1L815.3 208.3L815.4 202.4L815.4 196.6L815.5 190.8L815.5 185.0L815.6 179.2L815.7 173.5L815.7 167.8L815.8 162.2L815.8 156.7L815.9 151.2L816.0 145.9L816.0 140.6L816.1 135.5L816.1 130.4L816.2 125.6L816.3 120.8L816.3 116.2L816.4 111.7L816.4 107.4L816.5 103.2L816.6 99.2L816.6 95.4L816.7 91.8L816.7 88.3L816.8 85.0L816.9 81.9L816.9 79.0L817.0 76.3L817.0 73.8L817.1 71.5L817.2 69.5L817.2 67.7L817.3 66.1L817.3 64.9L817.4 64.2L817.5 65.3L817.6 67.2L817.7 69.5L817.8 72.3L817.9 75.4L818.0 78.8L818.1 82.4L818.2 86.3L818.3 90.3L818.4 94.6L818.5 98.9L818.6 103.3L818.7 107.8L818.8 112.3L818.9 116.8L819.0 121.3L819.1 125.8L819.2 130.2L819.3 134.5L819.4 138.8L819.5 143.0L819.5 147.1L819.6 151.0L819.7 154.9L820.3 152.6L820.9 150.4L821.4 148.2L821.5 152.1L821.6 156.0L821.6 160.1L821.7 164.3L821.8 168.5L821.8 172.9L821.9 177.3L821.9 181.8L822.0 186.4L822.1 191.0L822.1 195.7L822.2 200.4L822.2 205.2L822.3 210.1L822.4 215.0L822.4 219.9L822.5 224.8L822.5 229.8L822.6 234.7L822.7 239.7L822.7 244.7L822.8 249.6L822.9 254.5L822.9 259.4L823.0 264.2L823.0 269.0L823.1 273.7L823.2 278.3L823.2 282.8L823.3 287.3L823.3 291.6L823.4 295.8L823.5 299.9L823.5 303.8L823.6 307.6L823.6 311.3L823.7 314.7L823.8 318.0L823.8 321.1L823.9 324.1L824.0 326.8L824.0 329.3L824.1 331.6L824.1 333.7L824.2 335.6L824.3 337.2L824.3 338.6L824.4 339.6L824.4 340.4L824.5 340.8L824.6 340.5L824.6 339.8L824.7 338.9L824.8 337.8L824.8 336.4L824.9 334.8L825.0 333.0L825.0 331.0L825.1 328.8L825.1 326.4L825.2 323.8L825.3 321.0L825.3 318.1L825.4 314.9L825.5 311.5L825.5 308.0L825.6 304.2L825.7 300.3L825.7 296.2L825.8 292.0L825.9 287.6L825.9 283.0L826.0 278.3L826.0 273.4L826.1 268.4L826.2 263.3L826.2 258.0L826.3 252.6L826.4 247.2L826.4 241.6L826.5 236.0L826.6 230.3L826.6 224.5L826.7 218.7L826.8 212.8L826.8 206.9L826.9 201.1L826.9 195.2L827.0 189.3L827.1 183.4L827.1 177.6L827.2 171.9L827.3 166.2L827.3 160.5L827.4 155.0L827.5 149.5L827.5 144.1L827.6 138.9L827.6 133.7L827.7 128.7L827.8 123.8L827.8 119.1L827.9 114.5L828.0 110.1L828.0 105.8L828.1 101.7L828.2 97.8L828.2 94.0L828.3 90.5L828.4 87.1L828.4 83.9L828.5 80.9L828.5 78.2L828.6 75.6L828.7 73.3L828.7 71.2L828.8 69.3L828.9 67.8L828.9 66.5L829.0 65.8L829.1 66.9L829.2 68.7L829.3 71.0L829.4 73.8L829.5 76.8L829.6 80.2L829.7 83.8L829.8 87.6L829.9 91.7L830.0 95.8L830.1 100.1L830.2 104.5L830.3 108.9L830.3 113.3L830.4 117.8L830.5 122.3L830.6 126.7L830.7 131.0L830.8 135.4L830.9 139.6L831.0 143.7L831.1 147.7L831.2 151.7L831.3 155.4L831.9 153.3L832.4 151.1L833.0 148.9L833.1 152.8L833.1 156.8L833.2 160.9L833.2 165.0L833.3 169.3L833.4 173.6L833.4 178.0L833.5 182.5L833.5 187.1L833.6 191.7L833.7 196.4L833.7 201.1L833.8 205.9L833.8 210.8L833.9 215.6L834.0 220.6L834.0 225.5L834.1 230.4L834.1 235.4L834.2 240.4L834.3 245.3L834.3 250.2L834.4 255.1L834.4 260.0L834.5 264.8L834.6 269.6L834.6 274.3L834.7 278.9L834.7 283.4L834.8 287.9L834.9 292.2L834.9 296.4L835.0 300.4L835.0 304.4L835.1 308.2L835.2 311.8L835.2 315.3L835.3 318.5L835.3 321.7L835.4 324.6L835.5 327.3L835.5 329.8L835.6 332.1L835.6 334.2L835.7 336.1L835.8 337.7L835.8 339.1L835.9 340.1L835.9 340.9L836.0 341.3L836.1 341.0L836.1 340.3L836.2 339.4L836.2 338.3L836.3 336.9L836.4 335.4L836.4 333.6L836.5 331.6L836.5 329.4L836.6 327.1L836.7 324.5L836.7 321.7L836.8 318.8L836.8 315.7L836.9 312.3L837.0 308.8L837.0 305.1L837.1 301.3L837.2 297.2L837.2 293.0L837.3 288.6L837.3 284.1L837.4 279.4L837.5 274.6L837.5 269.6L837.6 264.5L837.6 259.3L837.7 254.0L837.8 248.6L837.8 243.1L837.9 237.4L837.9 231.8L838.0 226.0L838.1 220.2L838.1 214.4L838.2 208.5L838.2 202.6L838.3 196.7L838.4 190.9L838.4 185.0L838.5 179.2L838.5 173.4L838.6 167.6L838.7 161.9L838.7 156.3L838.8 150.8L838.8 145.3L838.9 140.0L839.0 134.8L839.0 129.7L839.1 124.7L839.1 119.9L839.2 115.2L839.3 110.6L839.3 106.2L839.4 102.0L839.5 97.9L839.5 94.0L839.6 90.3L839.6 86.8L839.7 83.4L839.8 80.3L839.8 77.3L839.9 74.6L839.9 72.1L840.0 69.7L840.1 67.7L840.1 65.8L840.2 64.3L840.2 63.0L840.3 62.3L840.4 63.4L840.5 65.2L840.6 67.5L840.7 70.2L840.8 73.2L840.8 76.5L840.9 80.1L841.0 83.8L841.1 87.8L841.2 91.9L841.3 96.2L841.4 100.5L841.5 104.9L841.6 109.4L841.7 113.9L841.8 118.3L841.8 122.8L841.9 127.2L842.0 131.6L842.1 135.9L842.2 140.1L842.3 144.3L842.4 148.3L842.5 152.2L842.6 156.0L843.1 153.9L843.7 151.8L844.2 149.7L844.3 153.6L844.4 157.7L844.4 161.8L844.5 166.1L844.5 170.4L844.6 174.8L844.7 179.3L844.7 183.9L844.8 188.5L844.8 193.2L844.9 198.0L845.0 202.8L845.0 207.7L845.1 212.7L845.1 217.6L845.2 222.6L845.3 227.7L845.3 232.7L845.4 237.7L845.4 242.8L845.5 247.8L845.6 252.8L845.6 257.8L845.7 262.7L845.7 267.6L845.8 272.4L845.9 277.1L845.9 281.7L846.0 286.3L846.0 290.7L846.1 295.0L846.2 299.2L846.2 303.3L846.3 307.2L846.4 310.9L846.4 314.5L846.5 317.9L846.5 321.1L846.6 324.1L846.7 326.9L846.7 329.5L846.8 331.9L846.8 334.0L846.9 335.9L847.0 337.6L847.0 339.0L847.1 340.1L847.1 340.9L847.2 341.3L847.3 341.0L847.3 340.3L847.4 339.4L847.4 338.3L847.5 337.0L847.6 335.4L847.6 333.7L847.7 331.7L847.8 329.5L847.8 327.2L847.9 324.6L847.9 321.9L848.0 319.0L848.1 315.9L848.1 312.6L848.2 309.1L848.2 305.4L848.3 301.6L848.4 297.6L848.4 293.4L848.5 289.1L848.5 284.6L848.6 279.9L848.7 275.1L848.7 270.2L848.8 265.1L848.9 260.0L848.9 254.7L849.0 249.3L849.0 243.7L849.1 238.2L849.2 232.5L849.2 226.8L849.3 221.0L849.3 215.1L849.4 209.3L849.5 203.4L849.5 197.5L849.6 191.6L849.6 185.7L849.7 179.8L849.8 174.0L849.8 168.2L849.9 162.4L850.0 156.8L850.0 151.2L850.1 145.6L850.1 140.2L850.2 134.9L850.3 129.7L850.3 124.6L850.4 119.7L850.4 114.9L850.5 110.2L850.6 105.7L850.6 101.3L850.7 97.1L850.7 93.0L850.8 89.2L850.9 85.5L850.9 82.0L851.0 78.6L851.1 75.5L851.1 72.6L851.2 69.8L851.2 67.3L851.3 65.0L851.4 62.9L851.4 61.1L851.5 59.6L851.5 58.3L851.6 57.6L851.7 58.7L851.8 60.5L851.9 62.8L852.0 65.4L852.1 68.5L852.1 71.8L852.2 75.3L852.3 79.1L852.4 83.1L852.5 87.2L852.6 91.5L852.7 95.8L852.8 100.3L852.9 104.8L853.0 109.3L853.1 113.9L853.2 118.4L853.2 122.9L853.3 127.4L853.4 131.8L853.5 136.2L853.6 140.5L853.7 144.7L853.8 148.7L853.9 152.7L854.0 156.6L854.6 154.5L855.1 152.5L855.7 150.4L855.8 154.4L855.8 158.4L855.9 162.5L856.0 166.7L856.0 170.9L856.1 175.3L856.1 179.7L856.2 184.3L856.3 188.9L856.3 193.5L856.4 198.2L856.5 203.0L856.5 207.9L856.6 212.7L856.7 217.7L856.7 222.6L856.8 227.6L856.8 232.6L856.9 237.5L857.0 242.5L857.0 247.5L857.1 252.4L857.2 257.4L857.2 262.2L857.3 267.1L857.3 271.8L857.4 276.5L857.5 281.1L857.5 285.6L857.6 290.0L857.7 294.2L857.7 298.4L857.8 302.4L857.9 306.2L857.9 309.9L858.0 313.4L858.0 316.8L858.1 320.0L858.2 323.0L858.2 325.7L858.3 328.3L858.4 330.7L858.4 332.8L858.5 334.7L858.5 336.3L858.6 337.7L858.7 338.8L858.7 339.6L858.8 340.0L858.9 339.7L858.9 339.0L859.0 338.1L859.1 337.0L859.1 335.7L859.2 334.1L859.2 332.3L859.3 330.3L859.4 328.2L859.4 325.8L859.5 323.2L859.6 320.5L859.6 317.5L859.7 314.4L859.8 311.1L859.8 307.6L859.9 303.9L859.9 300.1L860.0 296.0L860.1 291.8L860.1 287.5L860.2 283.0L860.3 278.3L860.3 273.5L860.4 268.5L860.4 263.4L860.5 258.2L860.6 252.9L860.6 247.5L860.7 242.0L860.8 236.4L860.8 230.7L860.9 225.0L861.0 219.2L861.0 213.4L861.1 207.6L861.1 201.7L861.2 195.8L861.3 189.9L861.3 184.1L861.4 178.3L861.5 172.5L861.5 166.8L861.6 161.1L861.7 155.5L861.7 150.0L861.8 144.5L861.8 139.2L861.9 134.0L862.0 128.9L862.0 123.9L862.1 119.1L862.2 114.4L862.2 109.9L862.3 105.5L862.3 101.3L862.4 97.2L862.5 93.3L862.5 89.6L862.6 86.1L862.7 82.8L862.7 79.6L862.8 76.7L862.9 74.0L862.9 71.4L863.0 69.1L863.0 67.0L863.1 65.2L863.2 63.7L863.2 62.4L863.3 61.7L863.4 62.8L863.5 64.6L863.6 67.0L863.7 69.7L863.8 72.8L863.9 76.2L863.9 79.9L864.0 83.7L864.1 87.8L864.2 92.0L864.3 96.3L864.4 100.8L864.5 105.3L864.6 109.9L864.7 114.4L864.8 119.0L864.9 123.6L865.0 128.1L865.1 132.6L865.1 137.0L865.2 141.3L865.3 145.5L865.4 149.7L865.5 153.7L865.6 157.6L866.2 155.6L866.7 153.6L867.3 151.7L867.4 155.5L867.4 159.5L867.5 163.6L867.5 167.7L867.6 172.0L867.7 176.3L867.7 180.7L867.8 185.2L867.9 189.8L867.9 194.4L868.0 199.1L868.0 203.9L868.1 208.7L868.2 213.5L868.2 218.4L868.3 223.3L868.4 228.3L868.4 233.2L868.5 238.1L868.5 243.1L868.6 248.0L868.7 252.9L868.7 257.7L868.8 262.5L868.9 267.3L868.9 272.0L869.0 276.5L869.0 281.0L869.1 285.4L869.2 289.7L869.2 293.9L869.3 297.9L869.4 301.8L869.4 305.5L869.5 309.0L869.5 312.4L869.6 315.6L869.7 318.6L869.7 321.4L869.8 323.9L869.9 326.3L869.9 328.4L870.0 330.4L870.0 332.0L870.1 333.4L870.2 334.5L870.2 335.3L870.3 335.7L870.4 335.4L870.4 334.7L870.5 333.8L870.5 332.7L870.6 331.3L870.7 329.7L870.7 327.9L870.8 326.0L870.9 323.8L870.9 321.4L871.0 318.8L871.0 316.0L871.1 313.0L871.2 309.9L871.2 306.5L871.3 303.0L871.3 299.3L871.4 295.4L871.5 291.3L871.5 287.1L871.6 282.7L871.7 278.1L871.7 273.4L871.8 268.5L871.8 263.6L871.9 258.4L872.0 253.2L872.0 247.8L872.1 242.4L872.1 236.9L872.2 231.2L872.3 225.6L872.3 219.8L872.4 214.0L872.5 208.2L872.5 202.3L872.6 196.5L872.6 190.6L872.7 184.7L872.8 178.9L872.8 173.1L872.9 167.4L872.9 161.7L873.0 156.1L873.1 150.5L873.1 145.1L873.2 139.7L873.2 134.5L873.3 129.4L873.4 124.4L873.4 119.5L873.5 114.8L873.6 110.2L873.6 105.8L873.7 101.6L873.7 97.5L873.8 93.6L873.9 89.8L873.9 86.3L874.0 82.9L874.0 79.8L874.1 76.8L874.2 74.0L874.2 71.5L874.3 69.2L874.4 67.1L874.4 65.2L874.5 63.7L874.5 62.4L874.6 61.7L874.7 62.8L874.8 64.5L874.9 66.8L875.0 69.4L875.1 72.4L875.1 75.7L875.2 79.2L875.3 82.9L875.4 86.9L875.5 91.0L875.6 95.2L875.7 99.5L875.8 103.9L875.9 108.3L876.0 112.8L876.1 117.3L876.2 121.8L876.2 126.3L876.3 130.7L876.4 135.1L876.5 139.4L876.6 143.6L876.7 147.8L876.8 151.8L876.9 155.7L877.0 159.6L877.6 157.7L878.1 155.8L878.7 153.9L878.8 157.9L878.8 161.9L878.9 166.1L879.0 170.3L879.0 174.7L879.1 179.1L879.2 183.7L879.2 188.3L879.3 192.9L879.4 197.7L879.4 202.5L879.5 207.4L879.6 212.3L879.6 217.3L879.7 222.3L879.8 227.3L879.8 232.3L879.9 237.4L880.0 242.4L880.1 247.4L880.1 252.4L880.2 257.3L880.3 262.2L880.3 267.1L880.4 271.8L880.5 276.5L880.5 281.1L880.6 285.5L880.7 289.8L880.7 294.0L880.8 298.1L880.9 302.0L880.9 305.7L881.0 309.2L881.1 312.6L881.1 315.7L881.2 318.6L881.3 321.4L881.3 323.8L881.4 326.1L881.5 328.1L881.5 329.8L881.6 331.3L881.7 332.5L881.7 333.3L881.8 333.7L881.9 333.4L881.9 332.7L882.0 331.8L882.0 330.7L882.1 329.3L882.2 327.8L882.2 326.0L882.3 324.0L882.3 321.8L882.4 319.4L882.4 316.8L882.5 314.1L882.6 311.1L882.6 307.9L882.7 304.6L882.7 301.1L882.8 297.4L882.9 293.5L882.9 289.4L883.0 285.2L883.0 280.8L883.1 276.3L883.1 271.6L883.2 266.7L883.3 261.8L883.3 256.7L883.4 251.4L883.4 246.1L883.5 240.7L883.6 235.1L883.6 229.5L883.7 223.9L883.7 218.1L883.8 212.4L883.8 206.6L883.9 200.7L884.0 194.9L884.0 189.0L884.1 183.2L884.1 177.4L884.2 171.6L884.3 165.9L884.3 160.2L884.4 154.6L884.4 149.1L884.5 143.6L884.6 138.3L884.6 133.1L884.7 128.0L884.7 123.0L884.8 118.1L884.8 113.4L884.9 108.9L885.0 104.5L885.0 100.2L885.1 96.2L885.1 92.3L885.2 88.5L885.3 85.0L885.3 81.7L885.4 78.5L885.4 75.5L885.5 72.8L885.5 70.3L885.6 67.9L885.7 65.9L885.7 64.0L885.8 62.5L885.8 61.2L885.9 60.5L886.0 61.5L886.1 63.3L886.2 65.5L886.3 68.1L886.3 71.0L886.4 74.2L886.5 77.6L886.6 81.3L886.7 85.1L886.8 89.1L886.9 93.3L887.0 97.5L887.1 101.9L887.1 106.3L887.2 110.7L887.3 115.2L887.4 119.7L887.5 124.1L887.6 128.6L887.7 132.9L887.8 137.3L887.9 141.5L888.0 145.7L888.0 149.8L888.1 153.8L888.2 157.7L888.3 161.5L888.9 159.7L889.5 158.0L890.1 156.2L890.1 160.1L890.2 164.1L890.3 168.3L890.3 172.5L890.4 176.8L890.5 181.2L890.6 185.7L890.6 190.3L890.7 195.0L890.8 199.7L890.8 204.5L890.9 209.4L891.0 214.3L891.1 219.2L891.1 224.2L891.2 229.1L891.3 234.1L891.3 239.1L891.4 244.1L891.5 249.0L891.6 253.9L891.6 258.8L891.7 263.6L891.8 268.3L891.8 272.9L891.9 277.4L892.0 281.8L892.1 286.1L892.1 290.2L892.2 294.1L892.3 297.9L892.3 301.5L892.4 304.9L892.5 308.1L892.6 311.1L892.6 313.9L892.7 316.4L892.8 318.7L892.8 320.8L892.9 322.6L893.0 324.0L893.1 325.2L893.1 326.1L893.2 326.5L893.3 326.2L893.3 325.5L893.4 324.6L893.4 323.4L893.5 322.0L893.6 320.3L893.6 318.5L893.7 316.4L893.7 314.1L893.8 311.6L893.9 308.9L893.9 306.0L894.0 302.9L894.0 299.6L894.1 296.1L894.2 292.5L894.2 288.6L894.3 284.5L894.3 280.3L894.4 275.9L894.5 271.3L894.5 266.6L894.6 261.7L894.6 256.7L894.7 251.5L894.8 246.2L894.8 240.8L894.9 235.3L894.9 229.7L895.0 224.1L895.1 218.3L895.1 212.5L895.2 206.7L895.2 200.8L895.3 194.9L895.3 189.0L895.4 183.1L895.5 177.2L895.5 171.4L895.6 165.6L895.6 159.9L895.7 154.2L895.8 148.6L895.8 143.1L895.9 137.8L895.9 132.5L896.0 127.3L896.1 122.3L896.1 117.5L896.2 112.7L896.2 108.2L896.3 103.8L896.4 99.6L896.4 95.5L896.5 91.7L896.5 88.0L896.6 84.6L896.7 81.3L896.7 78.2L896.8 75.4L896.8 72.8L896.9 70.4L897.0 68.2L897.0 66.3L897.1 64.7L897.1 63.4L897.2 62.7L897.3 63.7L897.4 65.5L897.5 67.7L897.6 70.3L897.7 73.2L897.8 76.3L897.8 79.8L897.9 83.4L898.0 87.3L898.1 91.3L898.2 95.4L898.3 99.6L898.4 104.0L898.5 108.4L898.6 112.8L898.7 117.3L898.8 121.7L898.9 126.2L898.9 130.6L899.0 135.0L899.1 139.3L899.2 143.6L899.3 147.7L899.4 151.8L899.5 155.8L899.6 159.7L899.7 163.5L900.3 161.8L900.9 160.1L901.5 158.4L901.6 162.4L901.6 166.4L901.7 170.5L901.8 174.8L901.9 179.1L901.9 183.5L902.0 188.1L902.1 192.7L902.2 197.4L902.2 202.1L902.3 207.0L902.4 211.8L902.5 216.7L902.6 221.7L902.6 226.7L902.7 231.7L902.8 236.7L902.9 241.6L902.9 246.6L903.0 251.5L903.1 256.3L903.2 261.1L903.2 265.8L903.3 270.4L903.4 274.9L903.5 279.2L903.5 283.5L903.6 287.5L903.7 291.4L903.8 295.1L903.9 298.6L903.9 301.9L904.0 305.0L904.1 307.9L904.2 310.5L904.2 312.9L904.3 315.0L904.4 316.8L904.5 318.4L904.5 319.6L904.6 320.5L904.7 320.9L904.8 320.6L904.8 319.9L904.9 319.0L905.0 317.8L905.0 316.4L905.1 314.7L905.1 312.9L905.2 310.8L905.3 308.5L905.3 306.0L905.4 303.3L905.5 300.4L905.5 297.3L905.6 294.0L905.7 290.5L905.7 286.8L905.8 283.0L905.8 278.9L905.9 274.7L906.0 270.3L906.0 265.7L906.1 261.0L906.2 256.1L906.2 251.1L906.3 245.9L906.4 240.6L906.4 235.3L906.5 229.8L906.5 224.2L906.6 218.6L906.7 212.9L906.7 207.1L906.8 201.3L906.9 195.5L906.9 189.6L907.0 183.8L907.1 178.0L907.1 172.2L907.2 166.4L907.2 160.8L907.3 155.1L907.4 149.6L907.4 144.1L907.5 138.8L907.6 133.5L907.6 128.4L907.7 123.4L907.8 118.5L907.8 113.8L907.9 109.3L907.9 104.9L908.0 100.7L908.1 96.7L908.1 92.8L908.2 89.2L908.3 85.7L908.3 82.4L908.4 79.4L908.5 76.5L908.5 73.9L908.6 71.5L908.6 69.4L908.7 67.5L908.8 65.9L908.8 64.6L908.9 63.9L909.0 64.9L909.1 66.7L909.2 68.9L909.3 71.4L909.3 74.3L909.4 77.5L909.5 81.0L909.6 84.6L909.7 88.4L909.8 92.4L909.9 96.5L910.0 100.8L910.1 105.1L910.1 109.5L910.2 113.9L910.3 118.4L910.4 122.8L910.5 127.3L910.6 131.7L910.7 136.1L910.8 140.4L910.9 144.6L911.0 148.8L911.0 152.9L911.1 156.9L911.2 160.8L911.3 164.6L911.9 162.8L912.5 161.0L913.1 159.3L913.1 163.2L913.2 167.2L913.3 171.4L913.4 175.6L913.5 180.0L913.5 184.4L913.6 189.0L913.7 193.6L913.8 198.3L913.8 203.1L913.9 208.0L914.0 212.9L914.1 217.8L914.2 222.8L914.2 227.7L914.3 232.7L914.4 237.7L914.5 242.6L914.6 247.5L914.6 252.4L914.7 257.1L914.8 261.8L914.9 266.4L914.9 270.9L915.0 275.2L915.1 279.4L915.2 283.4L915.3 287.2L915.3 290.8L915.4 294.2L915.5 297.4L915.6 300.4L915.7 303.1L915.7 305.5L915.8 307.7L915.9 309.6L916.0 311.2L916.0 312.5L916.1 313.4L916.2 313.8L916.3 313.5L916.3 312.8L916.4 311.8L916.5 310.6L916.5 309.1L916.6 307.4L916.6 305.5L916.7 303.3L916.8 301.0L916.8 298.4L916.9 295.6L917.0 292.6L917.0 289.4L917.1 286.0L917.2 282.3L917.2 278.5L917.3 274.5L917.3 270.3L917.4 265.9L917.5 261.3L917.5 256.6L917.6 251.7L917.7 246.7L917.7 241.5L917.8 236.3L917.9 230.9L917.9 225.3L918.0 219.8L918.0 214.1L918.1 208.4L918.2 202.6L918.2 196.8L918.3 190.9L918.4 185.1L918.4 179.3L918.5 173.5L918.5 167.7L918.6 162.0L918.7 156.4L918.7 150.8L918.8 145.4L918.9 140.0L918.9 134.8L919.0 129.7L919.1 124.7L919.1 119.9L919.2 115.2L919.2 110.7L919.3 106.4L919.4 102.2L919.4 98.3L919.5 94.5L919.6 90.9L919.6 87.6L919.7 84.5L919.8 81.5L919.8 78.9L919.9 76.4L919.9 74.2L920.0 72.3L920.1 70.6L920.1 69.4L920.2 68.6L920.3 69.6L920.4 71.4L920.5 73.6L920.6 76.3L920.7 79.2L920.8 82.4L920.9 85.9L921.0 89.6L921.1 93.5L921.2 97.5L921.2 101.7L921.3 105.9L921.4 110.3L921.5 114.7L921.6 119.1L921.7 123.6L921.8 128.0L921.9 132.4L922.0 136.8L922.1 141.1L922.2 145.4L922.3 149.5L922.4 153.6L922.5 157.6L922.6 161.5L922.7 165.3L923.3 163.4L923.9 161.5L924.5 159.6L924.6 163.5L924.6 167.5L924.7 171.5L924.8 175.7L924.9 180.0L925.0 184.4L925.1 188.9L925.2 193.5L925.2 198.2L925.3 202.9L925.4 207.7L925.5 212.5L925.6 217.4L925.7 222.3L925.7 227.2L925.8 232.1L925.9 236.9L926.0 241.7L926.1 246.5L926.2 251.2L926.3 255.8L926.3 260.3L926.4 264.6L926.5 268.8L926.6 272.9L926.7 276.7L926.8 280.4L926.9 283.9L926.9 287.1L927.0 290.1L927.1 292.9L927.2 295.4L927.3 297.6L927.4 299.5L927.4 301.2L927.5 302.4L927.6 303.4L927.7 303.8L927.8 303.5L927.8 302.7L927.9 301.7L928.0 300.4L928.0 298.9L928.1 297.1L928.2 295.0L928.2 292.8L928.3 290.3L928.4 287.5L928.4 284.6L928.5 281.4L928.6 277.9L928.6 274.3L928.7 270.5L928.7 266.4L928.8 262.2L928.9 257.7L928.9 253.1L929.0 248.3L929.1 243.3L929.1 238.2L929.2 233.0L929.3 227.6L929.3 222.1L929.4 216.6L929.5 210.9L929.5 205.2L929.6 199.5L929.7 193.7L929.7 187.9L929.8 182.1L929.9 176.3L929.9 170.6L930.0 164.9L930.1 159.3L930.1 153.8L930.2 148.4L930.3 143.2L930.3 138.0L930.4 133.0L930.5 128.1L930.5 123.4L930.6 118.9L930.6 114.6L930.7 110.5L930.8 106.5L930.8 102.8L930.9 99.3L931.0 96.1L931.0 93.0L931.1 90.2L931.2 87.7L931.2 85.4L931.3 83.4L931.4 81.7L931.4 80.4L931.5 79.6L931.6 80.7L931.7 82.6L931.8 85.0L932.0 87.8L932.1 90.9L932.2 94.4L932.3 98.1L932.4 102.0L932.5 106.1L932.6 110.3L932.7 114.6L932.9 119.1L933.0 123.5L933.1 128.0L933.2 132.5L933.3 137.0L933.4 141.4L933.5 145.7L933.7 150.0L933.8 154.1L933.9 158.2L934.0 162.1L934.1 166.0L934.7 164.0L935.4 162.0L936.0 160.0L936.1 163.9L936.2 167.9L936.3 172.0L936.4 176.3L936.5 180.7L936.6 185.2L936.7 189.8L936.8 194.4L936.9 199.2L937.0 204.0L937.1 208.9L937.2 213.8L937.3 218.7L937.4 223.6L937.5 228.5L937.6 233.4L937.7 238.2L937.8 242.9L937.9 247.5L938.0 252.0L938.1 256.3L938.2 260.5L938.3 264.4L938.4 268.2L938.5 271.7L938.6 275.0L938.7 278.0L938.8 280.7L938.9 283.1L939.0 285.2L939.1 286.9L939.2 288.3L939.3 289.3L939.4 289.8L939.5 289.4L939.5 288.6L939.6 287.5L939.7 286.1L939.8 284.4L939.8 282.5L939.9 280.2L940.0 277.7L940.1 275.0L940.1 272.0L940.2 268.7L940.3 265.2L940.3 261.4L940.4 257.4L940.5 253.2L940.6 248.7L940.6 244.1L940.7 239.3L940.8 234.2L940.9 229.1L940.9 223.8L941.0 218.3L941.1 212.8L941.1 207.1L941.2 201.4L941.3 195.7L941.4 190.0L941.4 184.2L941.5 178.5L941.6 172.8L941.6 167.2L941.7 161.6L941.8 156.2L941.9 150.9L941.9 145.7L942.0 140.7L942.1 135.9L942.2 131.3L942.2 126.8L942.3 122.6L942.4 118.6L942.4 114.8L942.5 111.3L942.6 108.1L942.7 105.1L942.7 102.4L942.8 99.9L942.9 97.8L943.0 96.0L943.0 94.6L943.1 93.8L943.2 94.9L943.4 96.9L943.5 99.4L943.6 102.3L943.8 105.6L943.9 109.1L944.0 112.9L944.2 117.0L944.3 121.1L944.4 125.4L944.6 129.7L944.7 134.1L944.8 138.5L944.9 142.8L945.1 147.1L945.2 151.3L945.3 155.4L945.5 159.4L945.6 163.3L945.7 167.1L946.4 165.1L947.0 163.1L947.7 161.1L947.8 165.0L947.9 169.1L948.0 173.3L948.1 177.6L948.2 182.1L948.3 186.7L948.4 191.4L948.5 196.1L948.6 201.0L948.7 205.9L948.8 210.9L949.0 215.8L949.1 220.8L949.2 225.8L949.3 230.7L949.4 235.6L949.5 240.3L949.6 245.0L949.7 249.5L949.8 253.8L949.9 258.0L950.0 261.9L950.1 265.6L950.2 269.0L950.3 272.2L950.5 275.1L950.6 277.6L950.7 279.8L950.8 281.7L950.9 283.2L951.0 284.2L951.1 284.7L951.2 284.3L951.3 283.5L951.4 282.3L951.5 280.8L951.6 279.0L951.6 276.9L951.7 274.5L951.8 271.8L951.9 268.8L952.0 265.6L952.1 262.0L952.2 258.2L952.3 254.2L952.4 249.9L952.5 245.4L952.6 240.6L952.7 235.7L952.7 230.5L952.8 225.2L952.9 219.8L953.0 214.2L953.1 208.6L953.2 202.8L953.3 197.1L953.4 191.3L953.5 185.5L953.6 179.7L953.7 174.0L953.8 168.3L953.8 162.8L953.9 157.4L954.0 152.2L954.1 147.1L954.2 142.2L954.3 137.5L954.4 133.0L954.5 128.8L954.6 124.8L954.7 121.1L954.8 117.6L954.9 114.5L954.9 111.6L955.0 109.0L955.1 106.8L955.2 104.9L955.3 103.5L955.4 102.6L955.5 103.8L955.7 105.9L955.8 108.5L955.9 111.5L956.0 115.0L956.2 118.7L956.3 122.7L956.4 126.9L956.5 131.2L956.7 135.7L956.8 140.2L956.9 144.7L957.0 149.1L957.2 153.6L957.3 157.9L957.4 162.2L957.5 166.3L957.7 170.3L957.8 174.1L958.4 172.0L958.9 169.9L959.5 167.8L959.6 171.7L959.7 175.7L959.8 179.9L959.9 184.3L960.1 188.7L960.2 193.3L960.3 198.1L960.4 202.8L960.5 207.7L960.6 212.6L960.7 217.5L960.8 222.4L960.9 227.3L961.1 232.1L961.2 236.8L961.3 241.3L961.4 245.7L961.5 249.9L961.6 253.9L961.7 257.6L961.8 261.0L961.9 264.1L962.0 266.8L962.2 269.2L962.3 271.2L962.4 272.8L962.5 274.0L962.6 274.5L962.7 274.1L962.8 273.2L962.9 271.9L963.0 270.3L963.1 268.4L963.2 266.1L963.3 263.5L963.4 260.7L963.5 257.5L963.6 254.0L963.6 250.2L963.7 246.1L963.8 241.7L963.9 237.2L964.0 232.3L964.1 227.3L964.2 222.1L964.3 216.7L964.4 211.1L964.5 205.5L964.6 199.7L964.7 193.9L964.8 188.1L964.9 182.3L965.0 176.5L965.1 170.8L965.2 165.2L965.3 159.8L965.4 154.5L965.5 149.3L965.6 144.4L965.7 139.7L965.7 135.2L965.8 131.0L965.9 127.1L966.0 123.4L966.1 120.1L966.2 117.0L966.3 114.3L966.4 112.0L966.5 110.0L966.6 108.5L966.7 107.6L966.8 108.8L967.0 110.8L967.1 113.4L967.2 116.4L967.4 119.8L967.5 123.4L967.6 127.4L967.8 131.5L967.9 135.7L968.0 140.1L968.2 144.5L968.3 148.9L968.4 153.3L968.5 157.7L968.7 162.0L968.8 166.1L968.9 170.2L969.1 174.1L969.2 177.9L969.8 177.0L970.4 176.2L971.0 175.3L971.2 179.2L971.3 183.3L971.5 187.5L971.6 191.9L971.7 196.5L971.9 201.2L972.0 206.0L972.2 210.8L972.3 215.7L972.5 220.5L972.6 225.3L972.7 230.1L972.9 234.6L973.0 239.0L973.2 243.1L973.3 246.9L973.4 250.5L973.6 253.6L973.7 256.3L973.9 258.6L974.0 260.4L974.2 261.7L974.3 262.3L974.4 261.9L974.5 260.9L974.6 259.6L974.7 257.9L974.8 255.9L974.9 253.5L975.0 250.7L975.1 247.7L975.2 244.3L975.3 240.6L975.4 236.6L975.5 232.3L975.6 227.7L975.7 222.9L975.8 217.8L975.9 212.6L976.0 207.2L976.1 201.7L976.2 196.1L976.4 190.4L976.5 184.7L976.6 179.0L976.7 173.4L976.8 167.8L976.9 162.4L977.0 157.1L977.1 152.0L977.2 147.2L977.3 142.5L977.4 138.1L977.5 134.1L977.6 130.3L977.7 126.8L977.8 123.6L977.9 120.8L978.0 118.4L978.1 116.4L978.2 114.8L978.3 113.9L978.5 114.9L978.7 116.5L978.9 118.7L979.1 121.3L979.3 124.3L979.5 127.7L979.7 131.5L979.9 135.6L980.2 140.0L980.4 144.7L980.6 149.7L980.8 154.9L981.0 160.3L981.2 165.8L981.4 171.5L981.6 177.2L981.8 183.0L982.0 188.7L982.2 194.4L982.4 199.9L982.6 205.3L982.8 210.5L983.0 215.5L983.2 220.2L983.4 224.6L983.6 228.7L983.9 232.4L984.1 235.8L984.3 238.8L984.5 241.5L984.7 243.7L984.9 245.6L985.1 247.0L985.3 248.0L985.5 248.5L985.6 248.0L985.8 246.9L986.0 245.4L986.1 243.4L986.2 240.9L986.4 238.1L986.5 234.8L986.7 231.2L986.9 227.1L987.0 222.7L987.1 218.0L987.3 213.0L987.4 207.7L987.6 202.2L987.8 196.6L987.9 190.8L988.0 185.0L988.2 179.3L988.4 173.5L988.5 167.9L988.6 162.5L988.8 157.2L988.9 152.2L989.1 147.6L989.2 143.2L989.4 139.2L989.5 135.6L989.7 132.4L989.8 129.7L990.0 127.4L990.1 125.6L990.3 124.6L990.5 125.6L990.8 127.4L991.0 129.8L991.3 132.6L991.5 135.9L991.8 139.6L992.0 143.7L992.3 148.2L992.5 153.0L992.7 158.1L993.0 163.4L993.2 168.8L993.5 174.4L993.7 180.1L994.0 185.7L994.2 191.2L994.5 196.6L994.7 201.7L995.0 206.6L995.2 211.2L995.4 215.4L995.7 219.3L995.9 222.7L996.2 225.7L996.4 228.2L996.7 230.3L996.9 232.0L997.2 233.1L997.4 233.6L997.6 233.0L997.8 231.8L998.0 230.0L998.1 227.7L998.3 224.9L998.5 221.6L998.7 217.9L998.9 213.6L999.1 209.0L999.2 204.1L999.4 198.8L999.6 193.3L999.8 187.7L1000.0 182.0L1000.2 176.4L1000.4 170.8L1000.5 165.5L1000.7 160.3L1000.9 155.5L1001.1 151.1L1001.3 147.1L1001.5 143.6L1001.6 140.5L1001.8 138.0L1002.0 136.1L1002.2 135.0L1002.5 136.2L1002.9 138.3L1003.2 141.0L1003.5 144.4L1003.9 148.4L1004.2 152.8L1004.5 157.7L1004.9 162.9L1005.2 168.4L1005.5 174.0L1005.9 179.7L1006.2 185.4L1006.5 190.8L1006.8 196.0L1007.2 200.7L1007.5 205.0L1007.8 208.8L1008.2 212.0L1008.5 214.7L1008.8 216.7L1009.2 218.1L1009.5 218.7L1009.8 218.0L1010.0 216.5L1010.3 214.2L1010.5 211.2L1010.8 207.6L1011.1 203.4L1011.3 198.6L1011.6 193.5L1011.9 188.1L1012.1 182.6L1012.4 177.2L1012.6 172.1L1012.9 167.3L1013.2 163.0L1013.4 159.4L1013.7 156.4L1013.9 154.1L1014.2 152.9L1014.5 154.3L1014.9 156.7L1015.2 159.8L1015.6 163.4L1015.9 167.2L1016.2 171.1L1016.6 175.1L1016.9 178.9L1017.3 182.6L1017.6 186.0L1018.4 189.3L1019.2 193.0L1020.0 196.9L1020.9 200.4L1021.7 202.9L1022.5 204.1L1022.9 203.0L1023.4 200.5L1023.8 196.8L1024.3 192.0L1024.7 186.8L1025.2 181.8L1025.6 177.5L1026.1 174.3L1026.5 172.6L1027.2 174.5L1027.9 178.2L1028.6 182.4L1029.3 185.6L1030.0 187.0L1030.9 185.8L1031.8 183.4L1032.7 181.9L1033.6 183.8L1034.4 187.5L1035.3 191.8L1036.1 195.0L1037.0 196.4L1037.5 195.8L1037.9 194.6L1038.4 193.4" stroke="#ff0000" stroke-width="2.8" fill="none" stroke-linejoin="round" stroke-linecap="round"/>
<path d="M72.3 157.8L72.8 198.6L73.4 163.0L73.9 191.2L74.5 165.8L75.0 199.0L75.6 159.6L76.1 192.6L76.7 172.9L77.2 202.9L77.8 167.9L78.3 198.0L78.9 167.3L79.4 200.6L80.0 167.5L80.5 210.1L81.1 165.5L81.6 200.1L82.2 166.7L82.7 203.8L83.3 172.1L83.8 199.2L84.4 168.7L84.9 198.1L85.5 172.1L86.0 206.2L86.6 178.3L87.1 210.1L87.7 175.6L88.2 218.2L88.8 176.3L89.3 220.4L89.9 168.7L90.4 213.2L91.0 168.6L91.5 217.7L92.1 161.0L92.6 215.6L93.2 163.6L93.7 212.1L94.3 145.9L94.8 204.1L95.4 148.5L95.9 209.9L96.5 141.4L97.0 207.5L97.6 141.7L98.1 221.0L98.7 143.6L99.2 229.9L99.8 163.7L100.3 232.2L100.9 173.5L101.4 220.8L102.0 169.3L102.5 210.7L103.1 170.3L103.6 206.4L104.2 160.4L104.7 201.7L105.3 163.5L105.8 193.8L106.4 162.9L106.9 194.9L107.5 160.1L108.0 201.4L108.6 165.8L109.1 214.5L109.7 153.2L110.2 229.0L110.8 163.2L111.3 221.6L111.9 160.1L112.4 225.5L113.0 159.0L113.5 232.5L114.1 151.8L114.6 228.6L115.2 168.2L115.7 208.6L116.3 157.5L116.8 197.0L117.4 167.0L117.9 202.7L118.5 150.7L119.0 197.8L119.6 147.8L120.1 211.6L120.7 166.1L121.2 207.0L121.8 158.8L122.3 201.2L122.9 170.1L123.4 202.2L124.0 161.3L124.5 214.4L125.1 177.1L125.6 222.0L126.2 163.9L126.7 206.9L127.3 169.2L127.8 209.8L128.4 170.4L128.9 199.4L129.5 143.0L130.0 212.8L130.6 151.0L131.1 205.0L131.7 167.3L132.2 218.2L132.8 151.2L133.3 209.5L133.9 146.2L134.4 227.6L135.0 148.4L135.5 212.0L136.1 161.0L136.6 208.3L137.2 161.0L137.7 220.9L138.3 164.3L138.8 204.2L139.4 151.6L139.9 194.8L140.5 160.5L141.0 201.6L141.6 169.9L142.1 197.5L142.7 168.8L143.2 202.4L143.8 169.9L144.3 203.7L144.9 167.7L145.4 206.2L146.0 171.6L146.5 203.5L147.1 154.2L147.6 210.3L148.2 162.7L148.7 205.1L149.3 158.6L149.8 210.7L150.4 154.8L150.9 218.7L151.5 142.5L152.0 214.3L152.6 156.3L153.1 207.3L153.7 154.6L154.2 219.3L154.8 145.7L155.3 220.8L155.9 160.2L156.4 211.7L157.0 157.6L157.5 211.0L158.1 154.6L158.6 222.8L159.2 163.0L159.7 210.1L160.3 158.6L160.8 203.0L161.4 155.1L161.9 199.3L162.5 164.4L163.0 208.3L163.6 162.8L164.1 199.1L164.7 162.5L165.2 201.9L165.8 159.5L166.3 206.9L166.9 150.6L167.4 217.4L168.0 162.4L168.5 212.6L169.1 166.7L169.6 209.9L170.2 158.6L170.7 203.5L171.3 174.0L171.8 201.7L172.4 162.1L172.9 198.4L173.5 166.1L174.0 205.7L174.6 169.7L175.1 197.2L175.7 164.2L176.2 203.5L176.8 159.7L177.3 209.2L177.9 166.2L178.4 201.6L179.0 166.6L179.5 198.5L180.1 165.9L180.6 200.9L181.2 173.4L181.7 208.7L182.3 176.8L182.8 206.9L183.4 162.5L183.9 206.2L184.5 171.8L185.0 195.3L185.6 163.6L186.1 202.1L186.7 166.0L187.2 201.1L187.8 165.5L188.3 199.5L188.9 167.2L189.4 213.6L190.0 166.5L190.5 212.5L191.1 173.1L191.6 209.8L192.2 175.5L192.7 212.2L193.3 168.9L193.8 206.2L194.4 171.6L194.9 207.4L195.5 168.7L196.0 204.7L196.6 166.9L197.1 208.7L197.7 169.6L198.2 199.8L198.8 171.0L199.3 213.0L199.9 171.8L200.4 214.2L201.0 166.6L201.5 215.6L202.1 160.5L202.6 214.2L203.2 154.0L203.7 222.6L204.3 148.1L204.8 217.6L205.4 165.7L205.9 208.3L206.5 148.6L207.0 204.5L207.6 145.0L208.1 199.6L208.7 161.7L209.2 204.6L209.8 168.1L210.3 202.7L210.9 164.8L211.4 205.7L212.0 174.5L212.5 205.9L213.1 169.3L213.6 201.7L214.2 172.3L214.7 205.0L215.3 178.5L215.8 196.3L216.4 177.6L216.9 202.3L217.5 170.1L218.0 198.8L218.6 167.1L219.1 209.3L219.7 169.7L220.2 202.8L220.8 173.0L221.3 204.5L221.9 163.4L222.4 212.0L223.0 160.7L223.5 210.3L224.1 172.6L224.6 224.7L225.2 148.1L225.7 216.5L226.3 156.5L226.8 208.3L227.4 171.5L227.9 215.7L228.5 162.1L229.0 199.4L229.6 162.1L230.1 204.6L230.7 171.6L231.2 204.5L231.8 169.9L232.3 206.7L232.9 173.5L233.4 210.6L234.0 170.0L234.5 214.2L235.1 173.5L235.6 213.7L236.2 176.5L236.7 211.8L237.3 173.6L237.8 206.9L238.4 177.8L238.9 208.2L239.5 169.7L240.0 205.8L240.6 173.2L241.1 205.8L241.7 176.7L242.2 200.7L242.8 166.6L243.3 207.2L243.9 172.2L244.4 201.1L245.0 157.8L245.5 208.4L246.1 167.1L246.6 210.9L247.2 169.5L247.7 211.5L248.3 165.1L248.8 206.4L249.4 162.1L249.9 214.3L250.5 170.2L251.0 204.3L251.6 167.8L252.1 209.4L252.7 165.0L253.2 209.3L253.8 174.0L254.3 206.6L254.9 171.0L255.4 201.5L256.0 170.0L256.5 206.5L257.1 173.3L257.6 205.6L258.2 156.3L258.7 220.1L259.3 159.0L259.8 214.2L260.4 154.4L260.9 209.6L261.5 162.8L262.0 199.0L262.6 169.3L263.1 203.0L263.7 165.0L264.2 208.6L264.8 164.5L265.3 202.4L265.9 174.1L266.4 202.7L267.0 169.9L267.5 196.5L268.1 177.6L268.6 198.4L269.2 170.4L269.7 195.7L270.3 175.2L270.8 202.3L271.4 166.0L271.9 200.5L272.5 168.8L273.0 205.9L273.6 166.7L274.1 210.7L274.7 163.6L275.2 205.3L275.8 166.3L276.3 202.5L276.9 166.3L277.4 203.3L278.0 167.0L278.5 195.7L279.1 168.6L279.6 203.5L280.2 166.2L280.7 203.0L281.3 160.4L281.8 200.9L282.4 165.9L282.9 195.9L283.5 174.6L284.0 211.5L284.6 174.1L285.1 204.4L285.7 164.6L286.2 203.3L286.8 163.9L287.3 200.6L287.9 167.8L288.4 197.5L289.0 171.9L289.5 202.0L290.1 170.7L290.6 203.2L291.2 171.6L291.7 204.2L292.3 169.6L292.8 202.3L293.4 172.9L293.9 205.3L294.5 172.4L295.0 201.7L295.6 175.6L296.1 205.2L296.7 169.6L297.2 203.7L297.8 173.2L298.3 212.4L298.9 164.7L299.4 204.5L300.0 172.3L300.5 206.4L301.1 169.8L301.6 199.9L302.2 181.7L302.7 204.8L303.3 178.1L303.8 204.2L304.4 177.6L304.9 196.6L305.5 171.8L306.0 208.4L306.6 161.8L307.1 207.7L307.7 160.5L308.2 201.3L308.8 177.1L309.3 205.9L309.9 166.7L310.4 202.9L311.0 160.9L311.5 206.7L312.1 151.3L312.6 206.0L313.2 174.0L313.7 201.8L314.3 176.2L314.8 202.2L315.4 168.9L315.9 200.7L316.5 172.2L317.0 206.9L317.6 172.2L318.1 204.1L318.7 164.2L319.2 197.7L319.8 174.3L320.3 205.8L320.9 160.7L321.4 199.0L322.0 168.9L322.5 200.7L323.1 168.2L323.6 200.5L324.2 169.0L324.7 195.4L325.3 178.4L325.8 196.6L326.4 180.4L326.9 195.5L327.5 173.9L328.0 198.5L328.6 177.3L329.1 198.2L329.7 173.7L330.2 203.1L330.8 175.2L331.3 206.9L331.9 171.3L332.4 198.3L333.0 163.3L333.5 206.1L334.1 165.7L334.6 205.2L335.2 164.7L335.7 209.3L336.3 174.1L336.8 207.8L337.4 175.2L337.9 204.4L338.5 179.3L339.0 195.6L339.6 182.2L340.1 196.4L340.7 176.0L341.2 196.0L341.8 181.9L342.3 196.3L342.9 179.4L343.4 200.1L344.0 181.7L344.5 203.3L345.1 174.0L345.6 199.4L346.2 177.5L346.7 196.1L347.3 164.7L347.8 216.9L348.4 172.5L348.9 211.8L349.5 172.2L350.0 205.3L350.6 166.0L351.1 198.4L351.7 162.5L352.2 202.5L352.8 167.2L353.3 202.3L353.9 173.9L354.4 203.5L355.0 170.5L355.5 202.1L356.1 174.9L356.6 196.2L357.2 178.3L357.7 196.4L358.3 174.1L358.8 201.5L359.4 176.5L359.9 198.0L360.5 175.0L361.0 195.6L361.6 180.1L362.1 194.8L362.7 179.7L363.2 194.3L363.8 178.1L364.3 198.3L364.9 177.0L365.4 197.1L366.0 175.9L366.5 195.0L367.1 175.0L367.6 196.3L368.2 173.3L368.7 195.5L369.3 176.6L369.8 191.2L370.4 174.1L370.9 194.6L371.5 173.3L372.0 198.3L372.6 181.0L373.1 199.7" fill="none" stroke="#ff0000" stroke-width="0.75" stroke-linejoin="miter"/>
<g font-family="'Liberation Sans', Arial, sans-serif" fill="#262626">
<text x="616" y="17.8" font-size="21.7" font-weight="bold" text-anchor="middle">JOH-001-101-0004</text>
<text x="616" y="397.1" font-size="22" text-anchor="middle">Time (s)</text>
<text transform="translate(18.8 186.2) rotate(-90)" font-size="22" text-anchor="middle">Amplitude</text>
<g font-size="20" text-anchor="end">
<text x="64" y="32.7">0.4</text>
<text x="64" y="72.8">0.3</text>
<text x="64" y="113.0">0.2</text>
<text x="64" y="153.1">0.1</text>
<text x="64" y="193.2">0</text>
<text x="64" y="233.3">-0.1</text>
<text x="64" y="273.4">-0.2</text>
<text x="64" y="313.6">-0.3</text>
<text x="64" y="353.7">-0.4</text>
</g>
<g font-size="20" text-anchor="middle">
<text x="71.0" y="371.8">0</text>
<text x="207.2" y="371.8">0.05</text>
<text x="343.5" y="371.8">0.1</text>
<text x="479.8" y="371.8">0.15</text>
<text x="616.0" y="371.8">0.2</text>
<text x="752.2" y="371.8">0.25</text>
<text x="888.5" y="371.8">0.3</text>
<text x="1024.8" y="371.8">0.35</text>
<text x="1161.0" y="371.8">0.4</text>
</g>
</g>
</svg>
</body>
</html>
